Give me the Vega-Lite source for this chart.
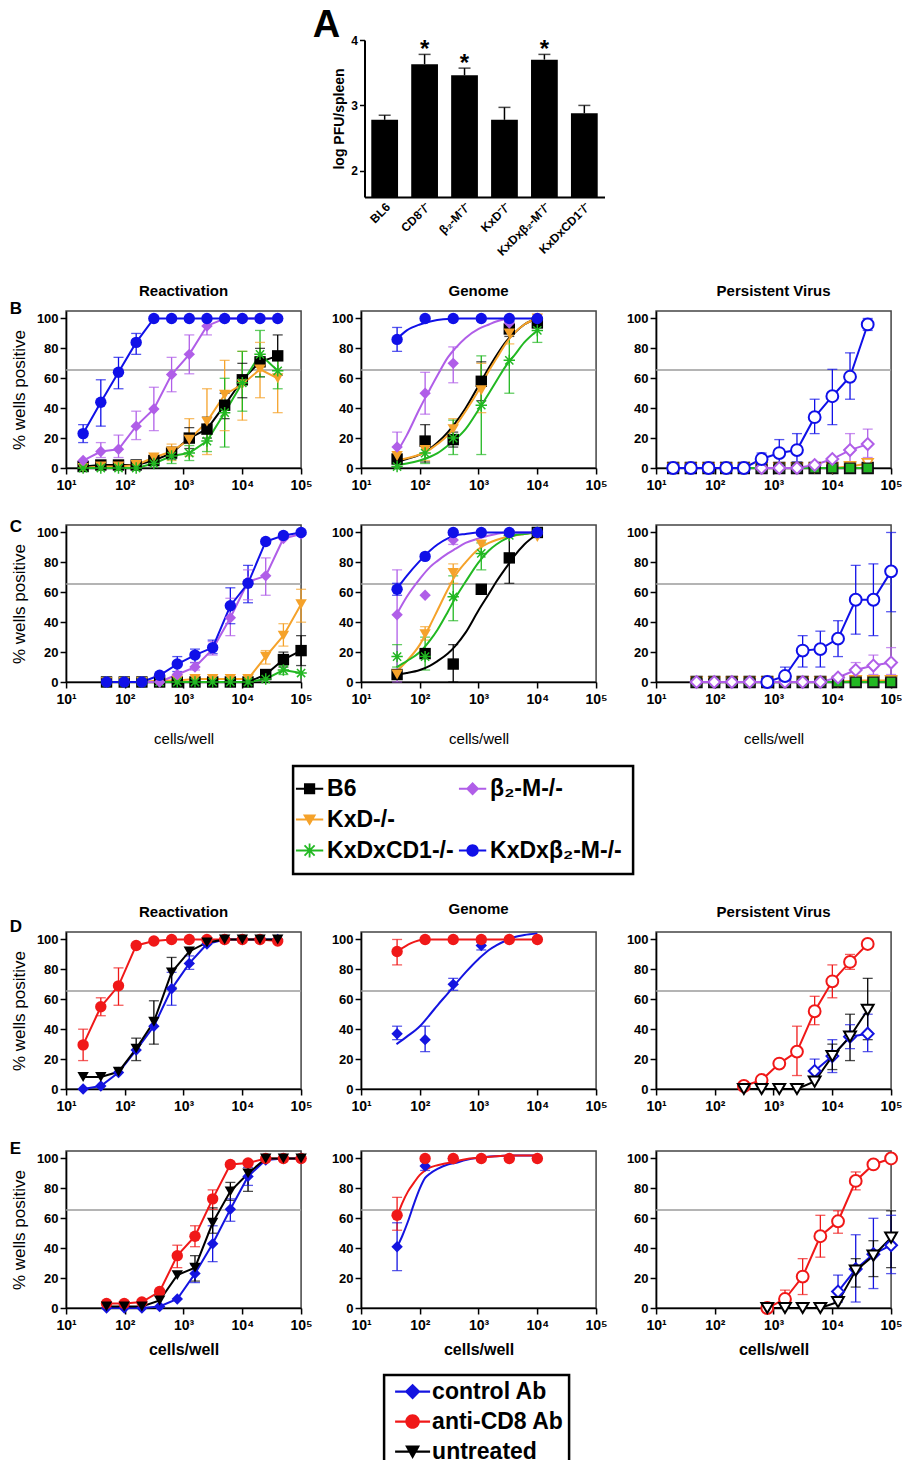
{
"$schema":"https://vega.github.io/schema/vega-lite/v6.json",
"background":"white",
"padding":{"left":9,"top":7,"right":0,"bottom":0},
"spacing":25,
"center":true,
"resolve":{"scale":{"color":"independent","shape":"independent"}},
"config":{
 "font":"Liberation Sans",
 "view":{"stroke":"#444444","strokeWidth":1.5},
 "axis":{"labelFont":"Liberation Sans","labelFontSize":13,"labelFontWeight":"bold","labelColor":"#000000","domainColor":"#000000","domainWidth":1.5,"tickColor":"#000000","tickWidth":1.5,"tickSize":6,"labelPadding":2,"grid":false,"titleFont":"Liberation Sans","titleColor":"#000000","labelOverlap":false},
 "axisX":{"labelFontSize":14,"labelPadding":4},
 "axisY":{"labelOverlap":false},
 "title":{"font":"Liberation Sans","fontSize":15,"fontWeight":"bold","color":"#000000","offset":12},
 "legend":{"labelFont":"Liberation Sans"}
},
"datasets":{
 "thr":[{"t":65.5}],
 "spleen":[{"g":"BL6","m":2.78,"hi":2.85,"sig":""},{"g":"CD8⁻/⁻","m":3.63,"hi":3.78,"sig":"*"},{"g":"β₂-M⁻/⁻","m":3.46,"hi":3.57,"sig":"*"},{"g":"KxD⁻/⁻","m":2.78,"hi":2.97,"sig":""},{"g":"KxDxβ₂-M⁻/⁻","m":3.70,"hi":3.78,"sig":"*"},{"g":"KxDxCD1⁻/⁻","m":2.88,"hi":3.0,"sig":""}],
 "bc":[
  {"p":"BR","s":"B6","x":19.5,"y":1},{"p":"BR","s":"B6","x":39,"y":2},{"p":"BR","s":"B6","x":78,"y":2},{"p":"BR","s":"B6","x":156,"y":2},{"p":"BR","s":"B6","x":312,"y":5},{"p":"BR","s":"B6","x":625,"y":10,"lo":6,"hi":14},{"p":"BR","s":"B6","x":1250,"y":20,"lo":13,"hi":27},{"p":"BR","s":"B6","x":2500,"y":26,"lo":20,"hi":34},{"p":"BR","s":"B6","x":5000,"y":42,"lo":33,"hi":50},{"p":"BR","s":"B6","x":10000,"y":59,"lo":47,"hi":70},{"p":"BR","s":"B6","x":20000,"y":71,"lo":61,"hi":80},{"p":"BR","s":"B6","x":40000,"y":75,"lo":62,"hi":89},
  {"p":"BR","s":"KxD-/-","x":19.5,"y":0},{"p":"BR","s":"KxD-/-","x":39,"y":1},{"p":"BR","s":"KxD-/-","x":78,"y":1},{"p":"BR","s":"KxD-/-","x":156,"y":2},{"p":"BR","s":"KxD-/-","x":312,"y":7},{"p":"BR","s":"KxD-/-","x":625,"y":11,"lo":5,"hi":16},{"p":"BR","s":"KxD-/-","x":1250,"y":19,"lo":8,"hi":33},{"p":"BR","s":"KxD-/-","x":2500,"y":31,"lo":9,"hi":53},{"p":"BR","s":"KxD-/-","x":5000,"y":49,"lo":25,"hi":72},{"p":"BR","s":"KxD-/-","x":10000,"y":56,"lo":32,"hi":78},{"p":"BR","s":"KxD-/-","x":20000,"y":66,"lo":47,"hi":84},{"p":"BR","s":"KxD-/-","x":40000,"y":60,"lo":37,"hi":72},
  {"p":"BR","s":"KxDxCD1-/-","x":19.5,"y":0},{"p":"BR","s":"KxDxCD1-/-","x":39,"y":0},{"p":"BR","s":"KxDxCD1-/-","x":78,"y":0},{"p":"BR","s":"KxDxCD1-/-","x":156,"y":0},{"p":"BR","s":"KxDxCD1-/-","x":312,"y":3},{"p":"BR","s":"KxDxCD1-/-","x":625,"y":8,"lo":3,"hi":13},{"p":"BR","s":"KxDxCD1-/-","x":1250,"y":10,"lo":5,"hi":15},{"p":"BR","s":"KxDxCD1-/-","x":2500,"y":18,"lo":11,"hi":25},{"p":"BR","s":"KxDxCD1-/-","x":5000,"y":37,"lo":14,"hi":60},{"p":"BR","s":"KxDxCD1-/-","x":10000,"y":57,"lo":38,"hi":78},{"p":"BR","s":"KxDxCD1-/-","x":20000,"y":76,"lo":61,"hi":92},{"p":"BR","s":"KxDxCD1-/-","x":40000,"y":65,"lo":53,"hi":77},
  {"p":"BR","s":"β₂-M-/-","x":19.5,"y":5},{"p":"BR","s":"β₂-M-/-","x":39,"y":11,"lo":7,"hi":17},{"p":"BR","s":"β₂-M-/-","x":78,"y":12.5,"lo":7,"hi":22},{"p":"BR","s":"β₂-M-/-","x":156,"y":28,"lo":19,"hi":38},{"p":"BR","s":"β₂-M-/-","x":312,"y":39.5,"lo":25,"hi":54},{"p":"BR","s":"β₂-M-/-","x":625,"y":62.5,"lo":51,"hi":74},{"p":"BR","s":"β₂-M-/-","x":1250,"y":76,"lo":63,"hi":89},{"p":"BR","s":"β₂-M-/-","x":2500,"y":95,"lo":89,"hi":100},{"p":"BR","s":"β₂-M-/-","x":5000,"y":100},{"p":"BR","s":"β₂-M-/-","x":10000,"y":100},{"p":"BR","s":"β₂-M-/-","x":20000,"y":100},{"p":"BR","s":"β₂-M-/-","x":40000,"y":100},
  {"p":"BR","s":"KxDxβ₂-M-/-","x":19.5,"y":23,"lo":17,"hi":29},{"p":"BR","s":"KxDxβ₂-M-/-","x":39,"y":44,"lo":28,"hi":59},{"p":"BR","s":"KxDxβ₂-M-/-","x":78,"y":64,"lo":53,"hi":74},{"p":"BR","s":"KxDxβ₂-M-/-","x":156,"y":84,"lo":76,"hi":90},{"p":"BR","s":"KxDxβ₂-M-/-","x":312,"y":100},{"p":"BR","s":"KxDxβ₂-M-/-","x":625,"y":100},{"p":"BR","s":"KxDxβ₂-M-/-","x":1250,"y":100},{"p":"BR","s":"KxDxβ₂-M-/-","x":2500,"y":100},{"p":"BR","s":"KxDxβ₂-M-/-","x":5000,"y":100},{"p":"BR","s":"KxDxβ₂-M-/-","x":10000,"y":100},{"p":"BR","s":"KxDxβ₂-M-/-","x":20000,"y":100},{"p":"BR","s":"KxDxβ₂-M-/-","x":40000,"y":100},

  {"p":"BG","s":"B6","x":41,"y":6},{"p":"BG","s":"B6","x":123,"y":18,"lo":4,"hi":29},{"p":"BG","s":"B6","x":370,"y":19,"lo":14,"hi":24},{"p":"BG","s":"B6","x":1111,"y":58,"lo":45,"hi":71},{"p":"BG","s":"B6","x":3333,"y":93,"lo":88,"hi":98},{"p":"BG","s":"B6","x":10000,"y":97},
  {"p":"BG","s":"KxD-/-","x":41,"y":8},{"p":"BG","s":"KxD-/-","x":123,"y":12,"lo":5,"hi":20},{"p":"BG","s":"KxD-/-","x":370,"y":26,"lo":20,"hi":33},{"p":"BG","s":"KxD-/-","x":1111,"y":52,"lo":37,"hi":70},{"p":"BG","s":"KxD-/-","x":3333,"y":90,"lo":83,"hi":97},{"p":"BG","s":"KxD-/-","x":10000,"y":100},
  {"p":"BG","s":"KxDxCD1-/-","x":41,"y":1},{"p":"BG","s":"KxDxCD1-/-","x":123,"y":10,"lo":3,"hi":18},{"p":"BG","s":"KxDxCD1-/-","x":370,"y":20,"lo":9,"hi":32},{"p":"BG","s":"KxDxCD1-/-","x":1111,"y":42,"lo":9,"hi":75},{"p":"BG","s":"KxDxCD1-/-","x":3333,"y":72,"lo":50,"hi":95},{"p":"BG","s":"KxDxCD1-/-","x":10000,"y":92,"lo":84,"hi":100},
  {"p":"BG","s":"β₂-M-/-","x":41,"y":14,"lo":5,"hi":24},{"p":"BG","s":"β₂-M-/-","x":123,"y":50,"lo":36,"hi":64},{"p":"BG","s":"β₂-M-/-","x":370,"y":70,"lo":57,"hi":81},{"p":"BG","s":"β₂-M-/-","x":1111,"y":100},{"p":"BG","s":"β₂-M-/-","x":3333,"y":97},{"p":"BG","s":"β₂-M-/-","x":10000,"y":100},
  {"p":"BG","s":"KxDxβ₂-M-/-","x":41,"y":86,"lo":78,"hi":94},{"p":"BG","s":"KxDxβ₂-M-/-","x":123,"y":100},{"p":"BG","s":"KxDxβ₂-M-/-","x":370,"y":100},{"p":"BG","s":"KxDxβ₂-M-/-","x":1111,"y":100},{"p":"BG","s":"KxDxβ₂-M-/-","x":3333,"y":100},{"p":"BG","s":"KxDxβ₂-M-/-","x":10000,"y":100},

  {"p":"BP","s":"B6","x":19.5,"y":0},{"p":"BP","s":"B6","x":39,"y":0},{"p":"BP","s":"B6","x":78,"y":0},{"p":"BP","s":"B6","x":156,"y":0},{"p":"BP","s":"B6","x":312,"y":0},{"p":"BP","s":"B6","x":625,"y":0},{"p":"BP","s":"B6","x":1250,"y":0},{"p":"BP","s":"B6","x":2500,"y":0},{"p":"BP","s":"B6","x":5000,"y":0},{"p":"BP","s":"B6","x":10000,"y":0},{"p":"BP","s":"B6","x":20000,"y":0},{"p":"BP","s":"B6","x":40000,"y":0},
  {"p":"BP","s":"KxD-/-","x":19.5,"y":0},{"p":"BP","s":"KxD-/-","x":39,"y":0},{"p":"BP","s":"KxD-/-","x":78,"y":0},{"p":"BP","s":"KxD-/-","x":156,"y":0},{"p":"BP","s":"KxD-/-","x":312,"y":0},{"p":"BP","s":"KxD-/-","x":625,"y":0},{"p":"BP","s":"KxD-/-","x":1250,"y":0},{"p":"BP","s":"KxD-/-","x":2500,"y":0},{"p":"BP","s":"KxD-/-","x":5000,"y":0},{"p":"BP","s":"KxD-/-","x":10000,"y":0},{"p":"BP","s":"KxD-/-","x":20000,"y":1},{"p":"BP","s":"KxD-/-","x":40000,"y":3,"lo":0,"hi":6},
  {"p":"BP","s":"KxDxCD1-/-","x":19.5,"y":0},{"p":"BP","s":"KxDxCD1-/-","x":39,"y":0},{"p":"BP","s":"KxDxCD1-/-","x":78,"y":0},{"p":"BP","s":"KxDxCD1-/-","x":156,"y":0},{"p":"BP","s":"KxDxCD1-/-","x":312,"y":0},{"p":"BP","s":"KxDxCD1-/-","x":625,"y":0},{"p":"BP","s":"KxDxCD1-/-","x":1250,"y":0},{"p":"BP","s":"KxDxCD1-/-","x":2500,"y":0},{"p":"BP","s":"KxDxCD1-/-","x":5000,"y":0},{"p":"BP","s":"KxDxCD1-/-","x":10000,"y":0},{"p":"BP","s":"KxDxCD1-/-","x":20000,"y":0},{"p":"BP","s":"KxDxCD1-/-","x":40000,"y":0},
  {"p":"BP","s":"β₂-M-/-","x":625,"y":0},{"p":"BP","s":"β₂-M-/-","x":1250,"y":0},{"p":"BP","s":"β₂-M-/-","x":2500,"y":0},{"p":"BP","s":"β₂-M-/-","x":5000,"y":2},{"p":"BP","s":"β₂-M-/-","x":10000,"y":6},{"p":"BP","s":"β₂-M-/-","x":20000,"y":12,"lo":3,"hi":23},{"p":"BP","s":"β₂-M-/-","x":40000,"y":16,"lo":7,"hi":26},
  {"p":"BP","s":"KxDxβ₂-M-/-","x":19.5,"y":0},{"p":"BP","s":"KxDxβ₂-M-/-","x":39,"y":0},{"p":"BP","s":"KxDxβ₂-M-/-","x":78,"y":0},{"p":"BP","s":"KxDxβ₂-M-/-","x":156,"y":0},{"p":"BP","s":"KxDxβ₂-M-/-","x":312,"y":0},{"p":"BP","s":"KxDxβ₂-M-/-","x":625,"y":6,"lo":2,"hi":10},{"p":"BP","s":"KxDxβ₂-M-/-","x":1250,"y":10,"lo":3,"hi":19},{"p":"BP","s":"KxDxβ₂-M-/-","x":2500,"y":12,"lo":4,"hi":23},{"p":"BP","s":"KxDxβ₂-M-/-","x":5000,"y":34,"lo":23,"hi":46},{"p":"BP","s":"KxDxβ₂-M-/-","x":10000,"y":48,"lo":29,"hi":66},{"p":"BP","s":"KxDxβ₂-M-/-","x":20000,"y":61,"lo":46,"hi":77},{"p":"BP","s":"KxDxβ₂-M-/-","x":40000,"y":96,"lo":92,"hi":100},

  {"p":"CR","s":"B6","x":48.8,"y":0},{"p":"CR","s":"B6","x":97.7,"y":0},{"p":"CR","s":"B6","x":195,"y":0},{"p":"CR","s":"B6","x":391,"y":0},{"p":"CR","s":"B6","x":781,"y":0},{"p":"CR","s":"B6","x":1563,"y":0},{"p":"CR","s":"B6","x":3125,"y":0},{"p":"CR","s":"B6","x":6250,"y":0},{"p":"CR","s":"B6","x":12500,"y":0},{"p":"CR","s":"B6","x":25000,"y":5},{"p":"CR","s":"B6","x":50000,"y":15,"lo":10,"hi":20},{"p":"CR","s":"B6","x":100000,"y":21,"lo":11,"hi":31},
  {"p":"CR","s":"KxD-/-","x":48.8,"y":0},{"p":"CR","s":"KxD-/-","x":97.7,"y":0},{"p":"CR","s":"KxD-/-","x":195,"y":0},{"p":"CR","s":"KxD-/-","x":391,"y":1},{"p":"CR","s":"KxD-/-","x":781,"y":1},{"p":"CR","s":"KxD-/-","x":1563,"y":2},{"p":"CR","s":"KxD-/-","x":3125,"y":2},{"p":"CR","s":"KxD-/-","x":6250,"y":2},{"p":"CR","s":"KxD-/-","x":12500,"y":2},{"p":"CR","s":"KxD-/-","x":25000,"y":17,"lo":12,"hi":21},{"p":"CR","s":"KxD-/-","x":50000,"y":31,"lo":24,"hi":39},{"p":"CR","s":"KxD-/-","x":100000,"y":52,"lo":40,"hi":62},
  {"p":"CR","s":"KxDxCD1-/-","x":48.8,"y":0},{"p":"CR","s":"KxDxCD1-/-","x":97.7,"y":0},{"p":"CR","s":"KxDxCD1-/-","x":195,"y":0},{"p":"CR","s":"KxDxCD1-/-","x":391,"y":0},{"p":"CR","s":"KxDxCD1-/-","x":781,"y":0},{"p":"CR","s":"KxDxCD1-/-","x":1563,"y":0},{"p":"CR","s":"KxDxCD1-/-","x":3125,"y":0},{"p":"CR","s":"KxDxCD1-/-","x":6250,"y":0},{"p":"CR","s":"KxDxCD1-/-","x":12500,"y":0},{"p":"CR","s":"KxDxCD1-/-","x":25000,"y":2},{"p":"CR","s":"KxDxCD1-/-","x":50000,"y":8,"lo":5,"hi":11},{"p":"CR","s":"KxDxCD1-/-","x":100000,"y":6},
  {"p":"CR","s":"β₂-M-/-","x":48.8,"y":0},{"p":"CR","s":"β₂-M-/-","x":97.7,"y":0},{"p":"CR","s":"β₂-M-/-","x":195,"y":0},{"p":"CR","s":"β₂-M-/-","x":391,"y":0},{"p":"CR","s":"β₂-M-/-","x":781,"y":5},{"p":"CR","s":"β₂-M-/-","x":1563,"y":10,"lo":8,"hi":13},{"p":"CR","s":"β₂-M-/-","x":3125,"y":22,"lo":18,"hi":27},{"p":"CR","s":"β₂-M-/-","x":6250,"y":43,"lo":31,"hi":56},{"p":"CR","s":"β₂-M-/-","x":12500,"y":67,"lo":55,"hi":75},{"p":"CR","s":"β₂-M-/-","x":25000,"y":71,"lo":58,"hi":83},{"p":"CR","s":"β₂-M-/-","x":50000,"y":96},{"p":"CR","s":"β₂-M-/-","x":100000,"y":99},
  {"p":"CR","s":"KxDxβ₂-M-/-","x":48.8,"y":0},{"p":"CR","s":"KxDxβ₂-M-/-","x":97.7,"y":0},{"p":"CR","s":"KxDxβ₂-M-/-","x":195,"y":0},{"p":"CR","s":"KxDxβ₂-M-/-","x":391,"y":4.5},{"p":"CR","s":"KxDxβ₂-M-/-","x":781,"y":12,"lo":7,"hi":17},{"p":"CR","s":"KxDxβ₂-M-/-","x":1563,"y":18,"lo":13,"hi":22},{"p":"CR","s":"KxDxβ₂-M-/-","x":3125,"y":23,"lo":19,"hi":28},{"p":"CR","s":"KxDxβ₂-M-/-","x":6250,"y":51,"lo":39,"hi":63},{"p":"CR","s":"KxDxβ₂-M-/-","x":12500,"y":66,"lo":53,"hi":78},{"p":"CR","s":"KxDxβ₂-M-/-","x":25000,"y":94},{"p":"CR","s":"KxDxβ₂-M-/-","x":50000,"y":98},{"p":"CR","s":"KxDxβ₂-M-/-","x":100000,"y":100},

  {"p":"CG","s":"B6","x":41,"y":5},{"p":"CG","s":"B6","x":123,"y":19,"lo":16,"hi":22},{"p":"CG","s":"B6","x":370,"y":12,"lo":0,"hi":25},{"p":"CG","s":"B6","x":1111,"y":62},{"p":"CG","s":"B6","x":3333,"y":83,"lo":66,"hi":100},{"p":"CG","s":"B6","x":10000,"y":100},
  {"p":"CG","s":"KxD-/-","x":41,"y":5},{"p":"CG","s":"KxD-/-","x":123,"y":32,"lo":28,"hi":37},{"p":"CG","s":"KxD-/-","x":370,"y":73,"lo":66,"hi":79},{"p":"CG","s":"KxD-/-","x":1111,"y":92},{"p":"CG","s":"KxD-/-","x":3333,"y":98},{"p":"CG","s":"KxD-/-","x":10000,"y":97},
  {"p":"CG","s":"KxDxCD1-/-","x":41,"y":17,"lo":10,"hi":25},{"p":"CG","s":"KxDxCD1-/-","x":123,"y":17,"lo":8,"hi":30},{"p":"CG","s":"KxDxCD1-/-","x":370,"y":57,"lo":41,"hi":71},{"p":"CG","s":"KxDxCD1-/-","x":1111,"y":86,"lo":75,"hi":93},{"p":"CG","s":"KxDxCD1-/-","x":3333,"y":98},{"p":"CG","s":"KxDxCD1-/-","x":10000,"y":100},
  {"p":"CG","s":"β₂-M-/-","x":41,"y":45,"lo":0,"hi":75},{"p":"CG","s":"β₂-M-/-","x":123,"y":58},{"p":"CG","s":"β₂-M-/-","x":370,"y":95,"lo":92,"hi":98},{"p":"CG","s":"β₂-M-/-","x":1111,"y":100},{"p":"CG","s":"β₂-M-/-","x":3333,"y":100},{"p":"CG","s":"β₂-M-/-","x":10000,"y":100},
  {"p":"CG","s":"KxDxβ₂-M-/-","x":41,"y":62,"lo":58,"hi":66},{"p":"CG","s":"KxDxβ₂-M-/-","x":123,"y":84},{"p":"CG","s":"KxDxβ₂-M-/-","x":370,"y":100},{"p":"CG","s":"KxDxβ₂-M-/-","x":1111,"y":100},{"p":"CG","s":"KxDxβ₂-M-/-","x":3333,"y":100},{"p":"CG","s":"KxDxβ₂-M-/-","x":10000,"y":100},

  {"p":"CP","s":"B6","x":48.8,"y":0},{"p":"CP","s":"B6","x":97.7,"y":0},{"p":"CP","s":"B6","x":195,"y":0},{"p":"CP","s":"B6","x":391,"y":0},{"p":"CP","s":"B6","x":781,"y":0},{"p":"CP","s":"B6","x":1563,"y":0},{"p":"CP","s":"B6","x":3125,"y":0},{"p":"CP","s":"B6","x":6250,"y":0},{"p":"CP","s":"B6","x":12500,"y":0},{"p":"CP","s":"B6","x":25000,"y":0},{"p":"CP","s":"B6","x":50000,"y":0},{"p":"CP","s":"B6","x":100000,"y":0},
  {"p":"CP","s":"KxD-/-","x":48.8,"y":0},{"p":"CP","s":"KxD-/-","x":97.7,"y":0},{"p":"CP","s":"KxD-/-","x":195,"y":0},{"p":"CP","s":"KxD-/-","x":391,"y":0},{"p":"CP","s":"KxD-/-","x":781,"y":0},{"p":"CP","s":"KxD-/-","x":1563,"y":0},{"p":"CP","s":"KxD-/-","x":3125,"y":0},{"p":"CP","s":"KxD-/-","x":6250,"y":0},{"p":"CP","s":"KxD-/-","x":12500,"y":0},{"p":"CP","s":"KxD-/-","x":25000,"y":1},{"p":"CP","s":"KxD-/-","x":50000,"y":1},{"p":"CP","s":"KxD-/-","x":100000,"y":1},
  {"p":"CP","s":"KxDxCD1-/-","x":48.8,"y":0},{"p":"CP","s":"KxDxCD1-/-","x":97.7,"y":0},{"p":"CP","s":"KxDxCD1-/-","x":195,"y":0},{"p":"CP","s":"KxDxCD1-/-","x":391,"y":0},{"p":"CP","s":"KxDxCD1-/-","x":781,"y":0},{"p":"CP","s":"KxDxCD1-/-","x":1563,"y":0},{"p":"CP","s":"KxDxCD1-/-","x":3125,"y":0},{"p":"CP","s":"KxDxCD1-/-","x":6250,"y":0},{"p":"CP","s":"KxDxCD1-/-","x":12500,"y":0},{"p":"CP","s":"KxDxCD1-/-","x":25000,"y":0},{"p":"CP","s":"KxDxCD1-/-","x":50000,"y":0},{"p":"CP","s":"KxDxCD1-/-","x":100000,"y":0},
  {"p":"CP","s":"β₂-M-/-","x":48.8,"y":0},{"p":"CP","s":"β₂-M-/-","x":97.7,"y":0},{"p":"CP","s":"β₂-M-/-","x":195,"y":0},{"p":"CP","s":"β₂-M-/-","x":391,"y":0},{"p":"CP","s":"β₂-M-/-","x":781,"y":0},{"p":"CP","s":"β₂-M-/-","x":1563,"y":0},{"p":"CP","s":"β₂-M-/-","x":3125,"y":0},{"p":"CP","s":"β₂-M-/-","x":6250,"y":0},{"p":"CP","s":"β₂-M-/-","x":12500,"y":3},{"p":"CP","s":"β₂-M-/-","x":25000,"y":8,"lo":4,"hi":13},{"p":"CP","s":"β₂-M-/-","x":50000,"y":11,"lo":5,"hi":18},{"p":"CP","s":"β₂-M-/-","x":100000,"y":13,"lo":5,"hi":23},
  {"p":"CP","s":"KxDxβ₂-M-/-","x":781,"y":0},{"p":"CP","s":"KxDxβ₂-M-/-","x":1563,"y":4,"lo":0,"hi":10},{"p":"CP","s":"KxDxβ₂-M-/-","x":3125,"y":21,"lo":10,"hi":31},{"p":"CP","s":"KxDxβ₂-M-/-","x":6250,"y":22,"lo":10,"hi":34},{"p":"CP","s":"KxDxβ₂-M-/-","x":12500,"y":29,"lo":17,"hi":41},{"p":"CP","s":"KxDxβ₂-M-/-","x":25000,"y":55,"lo":32,"hi":78},{"p":"CP","s":"KxDxβ₂-M-/-","x":50000,"y":55,"lo":31,"hi":79},{"p":"CP","s":"KxDxβ₂-M-/-","x":100000,"y":74,"lo":47,"hi":100}
 ],
 "fit":[
  {"p":"BG","s":"B6","x":40,"y":4},{"p":"BG","s":"B6","x":60,"y":6},{"p":"BG","s":"B6","x":100,"y":9},{"p":"BG","s":"B6","x":150,"y":13},{"p":"BG","s":"B6","x":200,"y":17},{"p":"BG","s":"B6","x":300,"y":24},{"p":"BG","s":"B6","x":400,"y":30},{"p":"BG","s":"B6","x":600,"y":40},{"p":"BG","s":"B6","x":1000,"y":55},{"p":"BG","s":"B6","x":1500,"y":67},{"p":"BG","s":"B6","x":2000,"y":75},{"p":"BG","s":"B6","x":3000,"y":85},{"p":"BG","s":"B6","x":4000,"y":90},{"p":"BG","s":"B6","x":6000,"y":96},{"p":"BG","s":"B6","x":10000,"y":100},
  {"p":"BG","s":"KxD-/-","x":40,"y":5},{"p":"BG","s":"KxD-/-","x":60,"y":6.5},{"p":"BG","s":"KxD-/-","x":100,"y":9},{"p":"BG","s":"KxD-/-","x":150,"y":12.5},{"p":"BG","s":"KxD-/-","x":200,"y":16},{"p":"BG","s":"KxD-/-","x":300,"y":22},{"p":"BG","s":"KxD-/-","x":400,"y":28},{"p":"BG","s":"KxD-/-","x":600,"y":38},{"p":"BG","s":"KxD-/-","x":1000,"y":52},{"p":"BG","s":"KxD-/-","x":1500,"y":65},{"p":"BG","s":"KxD-/-","x":2000,"y":73},{"p":"BG","s":"KxD-/-","x":3000,"y":84},{"p":"BG","s":"KxD-/-","x":4000,"y":90},{"p":"BG","s":"KxD-/-","x":6000,"y":96},{"p":"BG","s":"KxD-/-","x":10000,"y":100},
  {"p":"BG","s":"KxDxCD1-/-","x":40,"y":2},{"p":"BG","s":"KxDxCD1-/-","x":60,"y":3},{"p":"BG","s":"KxDxCD1-/-","x":100,"y":5},{"p":"BG","s":"KxDxCD1-/-","x":150,"y":7.5},{"p":"BG","s":"KxDxCD1-/-","x":200,"y":10},{"p":"BG","s":"KxDxCD1-/-","x":300,"y":15},{"p":"BG","s":"KxDxCD1-/-","x":400,"y":19},{"p":"BG","s":"KxDxCD1-/-","x":600,"y":26},{"p":"BG","s":"KxDxCD1-/-","x":1000,"y":39},{"p":"BG","s":"KxDxCD1-/-","x":1500,"y":50},{"p":"BG","s":"KxDxCD1-/-","x":2000,"y":58},{"p":"BG","s":"KxDxCD1-/-","x":3000,"y":69},{"p":"BG","s":"KxDxCD1-/-","x":4000,"y":75},{"p":"BG","s":"KxDxCD1-/-","x":6000,"y":84},{"p":"BG","s":"KxDxCD1-/-","x":10000,"y":92},
  {"p":"BG","s":"β₂-M-/-","x":40,"y":10},{"p":"BG","s":"β₂-M-/-","x":60,"y":22},{"p":"BG","s":"β₂-M-/-","x":100,"y":40},{"p":"BG","s":"β₂-M-/-","x":150,"y":53},{"p":"BG","s":"β₂-M-/-","x":200,"y":62},{"p":"BG","s":"β₂-M-/-","x":300,"y":74},{"p":"BG","s":"β₂-M-/-","x":400,"y":80},{"p":"BG","s":"β₂-M-/-","x":600,"y":87},{"p":"BG","s":"β₂-M-/-","x":1000,"y":93},{"p":"BG","s":"β₂-M-/-","x":1500,"y":96},{"p":"BG","s":"β₂-M-/-","x":2000,"y":98},{"p":"BG","s":"β₂-M-/-","x":3300,"y":100},
  {"p":"BG","s":"KxDxβ₂-M-/-","x":40,"y":86},{"p":"BG","s":"KxDxβ₂-M-/-","x":60,"y":92},{"p":"BG","s":"KxDxβ₂-M-/-","x":100,"y":96},{"p":"BG","s":"KxDxβ₂-M-/-","x":150,"y":98},{"p":"BG","s":"KxDxβ₂-M-/-","x":250,"y":99.5},{"p":"BG","s":"KxDxβ₂-M-/-","x":500,"y":100},{"p":"BG","s":"KxDxβ₂-M-/-","x":10000,"y":100},
  {"p":"CG","s":"B6","x":40,"y":5},{"p":"CG","s":"B6","x":60,"y":6},{"p":"CG","s":"B6","x":100,"y":8},{"p":"CG","s":"B6","x":150,"y":11},{"p":"CG","s":"B6","x":200,"y":14},{"p":"CG","s":"B6","x":300,"y":19},{"p":"CG","s":"B6","x":400,"y":24},{"p":"CG","s":"B6","x":600,"y":33},{"p":"CG","s":"B6","x":1000,"y":48},{"p":"CG","s":"B6","x":1500,"y":59},{"p":"CG","s":"B6","x":2000,"y":67},{"p":"CG","s":"B6","x":3000,"y":77},{"p":"CG","s":"B6","x":4000,"y":84},{"p":"CG","s":"B6","x":6000,"y":92},{"p":"CG","s":"B6","x":10000,"y":99},
  {"p":"CG","s":"KxD-/-","x":40,"y":7},{"p":"CG","s":"KxD-/-","x":60,"y":14},{"p":"CG","s":"KxD-/-","x":100,"y":25},{"p":"CG","s":"KxD-/-","x":150,"y":38},{"p":"CG","s":"KxD-/-","x":200,"y":48},{"p":"CG","s":"KxD-/-","x":300,"y":62},{"p":"CG","s":"KxD-/-","x":400,"y":71},{"p":"CG","s":"KxD-/-","x":600,"y":80},{"p":"CG","s":"KxD-/-","x":1000,"y":89},{"p":"CG","s":"KxD-/-","x":1500,"y":93},{"p":"CG","s":"KxD-/-","x":2000,"y":95},{"p":"CG","s":"KxD-/-","x":3000,"y":97},{"p":"CG","s":"KxD-/-","x":4000,"y":98},{"p":"CG","s":"KxD-/-","x":6000,"y":99},{"p":"CG","s":"KxD-/-","x":10000,"y":100},
  {"p":"CG","s":"KxDxCD1-/-","x":40,"y":10},{"p":"CG","s":"KxDxCD1-/-","x":60,"y":14},{"p":"CG","s":"KxDxCD1-/-","x":100,"y":20},{"p":"CG","s":"KxDxCD1-/-","x":150,"y":28},{"p":"CG","s":"KxDxCD1-/-","x":200,"y":35},{"p":"CG","s":"KxDxCD1-/-","x":300,"y":47},{"p":"CG","s":"KxDxCD1-/-","x":400,"y":56},{"p":"CG","s":"KxDxCD1-/-","x":600,"y":67},{"p":"CG","s":"KxDxCD1-/-","x":1000,"y":80},{"p":"CG","s":"KxDxCD1-/-","x":1500,"y":88},{"p":"CG","s":"KxDxCD1-/-","x":2000,"y":92},{"p":"CG","s":"KxDxCD1-/-","x":3000,"y":96},{"p":"CG","s":"KxDxCD1-/-","x":4000,"y":98},{"p":"CG","s":"KxDxCD1-/-","x":6000,"y":99},{"p":"CG","s":"KxDxCD1-/-","x":10000,"y":100},
  {"p":"CG","s":"β₂-M-/-","x":40,"y":45},{"p":"CG","s":"β₂-M-/-","x":60,"y":57},{"p":"CG","s":"β₂-M-/-","x":100,"y":69},{"p":"CG","s":"β₂-M-/-","x":150,"y":77},{"p":"CG","s":"β₂-M-/-","x":200,"y":81},{"p":"CG","s":"β₂-M-/-","x":300,"y":86},{"p":"CG","s":"β₂-M-/-","x":400,"y":89},{"p":"CG","s":"β₂-M-/-","x":600,"y":93},{"p":"CG","s":"β₂-M-/-","x":1000,"y":96},{"p":"CG","s":"β₂-M-/-","x":2000,"y":99},{"p":"CG","s":"β₂-M-/-","x":3000,"y":100},{"p":"CG","s":"β₂-M-/-","x":10000,"y":100},
  {"p":"CG","s":"KxDxβ₂-M-/-","x":40,"y":62},{"p":"CG","s":"KxDxβ₂-M-/-","x":60,"y":71},{"p":"CG","s":"KxDxβ₂-M-/-","x":100,"y":81},{"p":"CG","s":"KxDxβ₂-M-/-","x":150,"y":88},{"p":"CG","s":"KxDxβ₂-M-/-","x":200,"y":92},{"p":"CG","s":"KxDxβ₂-M-/-","x":300,"y":96},{"p":"CG","s":"KxDxβ₂-M-/-","x":400,"y":98},{"p":"CG","s":"KxDxβ₂-M-/-","x":600,"y":99},{"p":"CG","s":"KxDxβ₂-M-/-","x":1000,"y":100},{"p":"CG","s":"KxDxβ₂-M-/-","x":10000,"y":100},
  {"p":"DG","s":"control Ab","x":40,"y":30},{"p":"DG","s":"control Ab","x":60,"y":35},{"p":"DG","s":"control Ab","x":100,"y":42},{"p":"DG","s":"control Ab","x":150,"y":50},{"p":"DG","s":"control Ab","x":200,"y":56},{"p":"DG","s":"control Ab","x":300,"y":64},{"p":"DG","s":"control Ab","x":400,"y":70},{"p":"DG","s":"control Ab","x":600,"y":78},{"p":"DG","s":"control Ab","x":1000,"y":87},{"p":"DG","s":"control Ab","x":1500,"y":93},{"p":"DG","s":"control Ab","x":2000,"y":96},{"p":"DG","s":"control Ab","x":3000,"y":99.5},{"p":"DG","s":"control Ab","x":4000,"y":101.5},{"p":"DG","s":"control Ab","x":6000,"y":103},{"p":"DG","s":"control Ab","x":10000,"y":104},
  {"p":"DG","s":"anti-CD8 Ab","x":41,"y":92},{"p":"DG","s":"anti-CD8 Ab","x":123,"y":100},{"p":"DG","s":"anti-CD8 Ab","x":370,"y":100},{"p":"DG","s":"anti-CD8 Ab","x":1111,"y":100},{"p":"DG","s":"anti-CD8 Ab","x":3333,"y":100},{"p":"DG","s":"anti-CD8 Ab","x":10000,"y":100},
  {"p":"EG","s":"control Ab","x":40,"y":40},{"p":"EG","s":"control Ab","x":50,"y":48},{"p":"EG","s":"control Ab","x":63,"y":58},{"p":"EG","s":"control Ab","x":80,"y":70},{"p":"EG","s":"control Ab","x":100,"y":80},{"p":"EG","s":"control Ab","x":123,"y":87},{"p":"EG","s":"control Ab","x":150,"y":90},{"p":"EG","s":"control Ab","x":200,"y":93},{"p":"EG","s":"control Ab","x":300,"y":96},{"p":"EG","s":"control Ab","x":400,"y":97},{"p":"EG","s":"control Ab","x":600,"y":99},{"p":"EG","s":"control Ab","x":1000,"y":100.5},{"p":"EG","s":"control Ab","x":2000,"y":101.5},{"p":"EG","s":"control Ab","x":4000,"y":102},{"p":"EG","s":"control Ab","x":10000,"y":102},
  {"p":"EG","s":"anti-CD8 Ab","x":40,"y":60},{"p":"EG","s":"anti-CD8 Ab","x":50,"y":70},{"p":"EG","s":"anti-CD8 Ab","x":63,"y":78},{"p":"EG","s":"anti-CD8 Ab","x":80,"y":84},{"p":"EG","s":"anti-CD8 Ab","x":100,"y":89},{"p":"EG","s":"anti-CD8 Ab","x":123,"y":92},{"p":"EG","s":"anti-CD8 Ab","x":150,"y":94},{"p":"EG","s":"anti-CD8 Ab","x":200,"y":95.5},{"p":"EG","s":"anti-CD8 Ab","x":300,"y":97},{"p":"EG","s":"anti-CD8 Ab","x":400,"y":98},{"p":"EG","s":"anti-CD8 Ab","x":600,"y":99.5},{"p":"EG","s":"anti-CD8 Ab","x":1000,"y":100.5},{"p":"EG","s":"anti-CD8 Ab","x":2000,"y":101.5},{"p":"EG","s":"anti-CD8 Ab","x":4000,"y":102},{"p":"EG","s":"anti-CD8 Ab","x":10000,"y":102}
 ],
 "de":[
  {"p":"DR","s":"control Ab","x":19.5,"y":0},{"p":"DR","s":"control Ab","x":39,"y":2},{"p":"DR","s":"control Ab","x":78,"y":11},{"p":"DR","s":"control Ab","x":156,"y":26},{"p":"DR","s":"control Ab","x":312,"y":42},{"p":"DR","s":"control Ab","x":625,"y":67,"lo":56,"hi":78},{"p":"DR","s":"control Ab","x":1250,"y":84,"lo":80,"hi":89},{"p":"DR","s":"control Ab","x":2500,"y":97},{"p":"DR","s":"control Ab","x":5000,"y":100},{"p":"DR","s":"control Ab","x":10000,"y":100},{"p":"DR","s":"control Ab","x":20000,"y":100},{"p":"DR","s":"control Ab","x":40000,"y":100},
  {"p":"DR","s":"anti-CD8 Ab","x":19.5,"y":29.5,"lo":19,"hi":40},{"p":"DR","s":"anti-CD8 Ab","x":39,"y":55,"lo":49,"hi":61},{"p":"DR","s":"anti-CD8 Ab","x":78,"y":69,"lo":56,"hi":81},{"p":"DR","s":"anti-CD8 Ab","x":156,"y":96},{"p":"DR","s":"anti-CD8 Ab","x":312,"y":99},{"p":"DR","s":"anti-CD8 Ab","x":625,"y":100},{"p":"DR","s":"anti-CD8 Ab","x":1250,"y":100},{"p":"DR","s":"anti-CD8 Ab","x":2500,"y":100},{"p":"DR","s":"anti-CD8 Ab","x":5000,"y":100},{"p":"DR","s":"anti-CD8 Ab","x":10000,"y":100},{"p":"DR","s":"anti-CD8 Ab","x":20000,"y":100},{"p":"DR","s":"anti-CD8 Ab","x":40000,"y":99},
  {"p":"DR","s":"untreated","x":19.5,"y":8},{"p":"DR","s":"untreated","x":39,"y":8},{"p":"DR","s":"untreated","x":78,"y":11.5},{"p":"DR","s":"untreated","x":156,"y":27,"lo":19,"hi":34},{"p":"DR","s":"untreated","x":312,"y":45,"lo":30,"hi":59},{"p":"DR","s":"untreated","x":625,"y":78,"lo":68,"hi":88},{"p":"DR","s":"untreated","x":1250,"y":92},{"p":"DR","s":"untreated","x":2500,"y":98},{"p":"DR","s":"untreated","x":5000,"y":100},{"p":"DR","s":"untreated","x":10000,"y":100},{"p":"DR","s":"untreated","x":20000,"y":100},{"p":"DR","s":"untreated","x":40000,"y":100},
  {"p":"DG","s":"control Ab","x":41,"y":37,"lo":33,"hi":42},{"p":"DG","s":"control Ab","x":123,"y":33,"lo":25,"hi":42},{"p":"DG","s":"control Ab","x":370,"y":70,"lo":66,"hi":74},{"p":"DG","s":"control Ab","x":1111,"y":96,"lo":93,"hi":98},{"p":"DG","s":"control Ab","x":3333,"y":100},{"p":"DG","s":"control Ab","x":10000,"y":100},
  {"p":"DG","s":"anti-CD8 Ab","x":41,"y":92,"lo":83,"hi":100},{"p":"DG","s":"anti-CD8 Ab","x":123,"y":100},{"p":"DG","s":"anti-CD8 Ab","x":370,"y":100},{"p":"DG","s":"anti-CD8 Ab","x":1111,"y":100},{"p":"DG","s":"anti-CD8 Ab","x":3333,"y":100},{"p":"DG","s":"anti-CD8 Ab","x":10000,"y":100},
  {"p":"DP","s":"control Ab","x":5000,"y":12,"lo":6,"hi":20},{"p":"DP","s":"control Ab","x":10000,"y":22,"lo":11,"hi":33},{"p":"DP","s":"control Ab","x":20000,"y":35,"lo":27,"hi":43},{"p":"DP","s":"control Ab","x":40000,"y":37,"lo":25,"hi":50},
  {"p":"DP","s":"anti-CD8 Ab","x":312,"y":2},{"p":"DP","s":"anti-CD8 Ab","x":625,"y":6},{"p":"DP","s":"anti-CD8 Ab","x":1250,"y":17},{"p":"DP","s":"anti-CD8 Ab","x":2500,"y":25,"lo":9,"hi":42},{"p":"DP","s":"anti-CD8 Ab","x":5000,"y":52,"lo":43,"hi":62},{"p":"DP","s":"anti-CD8 Ab","x":10000,"y":72,"lo":61,"hi":83},{"p":"DP","s":"anti-CD8 Ab","x":20000,"y":85,"lo":80,"hi":90},{"p":"DP","s":"anti-CD8 Ab","x":40000,"y":97},
  {"p":"DP","s":"untreated","x":312,"y":0},{"p":"DP","s":"untreated","x":625,"y":0},{"p":"DP","s":"untreated","x":1250,"y":0},{"p":"DP","s":"untreated","x":2500,"y":0},{"p":"DP","s":"untreated","x":5000,"y":5},{"p":"DP","s":"untreated","x":10000,"y":22,"lo":13,"hi":30},{"p":"DP","s":"untreated","x":20000,"y":35,"lo":19,"hi":50},{"p":"DP","s":"untreated","x":40000,"y":53,"lo":33,"hi":74},
  {"p":"ER","s":"control Ab","x":48.8,"y":0},{"p":"ER","s":"control Ab","x":97.7,"y":0},{"p":"ER","s":"control Ab","x":195,"y":0},{"p":"ER","s":"control Ab","x":391,"y":1},{"p":"ER","s":"control Ab","x":781,"y":6},{"p":"ER","s":"control Ab","x":1563,"y":23,"lo":17,"hi":29},{"p":"ER","s":"control Ab","x":3125,"y":43,"lo":31,"hi":55},{"p":"ER","s":"control Ab","x":6250,"y":66,"lo":58,"hi":73},{"p":"ER","s":"control Ab","x":12500,"y":88,"lo":82,"hi":94},{"p":"ER","s":"control Ab","x":25000,"y":99},{"p":"ER","s":"control Ab","x":50000,"y":100},{"p":"ER","s":"control Ab","x":100000,"y":100},
  {"p":"ER","s":"anti-CD8 Ab","x":48.8,"y":3},{"p":"ER","s":"anti-CD8 Ab","x":97.7,"y":3},{"p":"ER","s":"anti-CD8 Ab","x":195,"y":4},{"p":"ER","s":"anti-CD8 Ab","x":391,"y":11},{"p":"ER","s":"anti-CD8 Ab","x":781,"y":35,"lo":27,"hi":42},{"p":"ER","s":"anti-CD8 Ab","x":1563,"y":48,"lo":41,"hi":55},{"p":"ER","s":"anti-CD8 Ab","x":3125,"y":73,"lo":66,"hi":79},{"p":"ER","s":"anti-CD8 Ab","x":6250,"y":96},{"p":"ER","s":"anti-CD8 Ab","x":12500,"y":97},{"p":"ER","s":"anti-CD8 Ab","x":25000,"y":100},{"p":"ER","s":"anti-CD8 Ab","x":50000,"y":100},{"p":"ER","s":"anti-CD8 Ab","x":100000,"y":100},
  {"p":"ER","s":"untreated","x":48.8,"y":1},{"p":"ER","s":"untreated","x":97.7,"y":1},{"p":"ER","s":"untreated","x":195,"y":1},{"p":"ER","s":"untreated","x":391,"y":5},{"p":"ER","s":"untreated","x":781,"y":22},{"p":"ER","s":"untreated","x":1563,"y":27,"lo":18,"hi":35},{"p":"ER","s":"untreated","x":3125,"y":57,"lo":50,"hi":67},{"p":"ER","s":"untreated","x":6250,"y":78,"lo":72,"hi":84},{"p":"ER","s":"untreated","x":12500,"y":90,"lo":78,"hi":98},{"p":"ER","s":"untreated","x":25000,"y":100},{"p":"ER","s":"untreated","x":50000,"y":100},{"p":"ER","s":"untreated","x":100000,"y":100},
  {"p":"EG","s":"control Ab","x":41,"y":41,"lo":25,"hi":57},{"p":"EG","s":"control Ab","x":123,"y":95,"lo":92,"hi":98},{"p":"EG","s":"control Ab","x":370,"y":100},{"p":"EG","s":"control Ab","x":1111,"y":100},{"p":"EG","s":"control Ab","x":3333,"y":100},{"p":"EG","s":"control Ab","x":10000,"y":100},
  {"p":"EG","s":"anti-CD8 Ab","x":41,"y":62,"lo":52,"hi":74},{"p":"EG","s":"anti-CD8 Ab","x":123,"y":100},{"p":"EG","s":"anti-CD8 Ab","x":370,"y":100},{"p":"EG","s":"anti-CD8 Ab","x":1111,"y":100},{"p":"EG","s":"anti-CD8 Ab","x":3333,"y":100},{"p":"EG","s":"anti-CD8 Ab","x":10000,"y":100},
  {"p":"EP","s":"control Ab","x":12500,"y":11,"lo":4,"hi":22},{"p":"EP","s":"control Ab","x":25000,"y":26,"lo":4,"hi":49},{"p":"EP","s":"control Ab","x":50000,"y":36,"lo":13,"hi":60},{"p":"EP","s":"control Ab","x":100000,"y":42,"lo":23,"hi":62},
  {"p":"EP","s":"anti-CD8 Ab","x":781,"y":0},{"p":"EP","s":"anti-CD8 Ab","x":1563,"y":6,"lo":1,"hi":12},{"p":"EP","s":"anti-CD8 Ab","x":3125,"y":21,"lo":9,"hi":33},{"p":"EP","s":"anti-CD8 Ab","x":6250,"y":48,"lo":34,"hi":62},{"p":"EP","s":"anti-CD8 Ab","x":12500,"y":58,"lo":50,"hi":65},{"p":"EP","s":"anti-CD8 Ab","x":25000,"y":85,"lo":79,"hi":91},{"p":"EP","s":"anti-CD8 Ab","x":50000,"y":96},{"p":"EP","s":"anti-CD8 Ab","x":100000,"y":100},
  {"p":"EP","s":"untreated","x":781,"y":0},{"p":"EP","s":"untreated","x":1563,"y":0},{"p":"EP","s":"untreated","x":3125,"y":0},{"p":"EP","s":"untreated","x":6250,"y":0},{"p":"EP","s":"untreated","x":12500,"y":4},{"p":"EP","s":"untreated","x":25000,"y":25,"lo":14,"hi":33},{"p":"EP","s":"untreated","x":50000,"y":35,"lo":21,"hi":45},{"p":"EP","s":"untreated","x":100000,"y":47,"lo":27,"hi":65}
 ]
},
"vconcat":[
 {
  "width":240,"height":157,
  "view":{"stroke":null},
  "title":{"text":"A","fontSize":38,"fontWeight":"bold","anchor":"start","frame":"bounds","dx":-20,"offset":-41,"baseline":"alphabetic"},
  "data":{"name":"spleen"},
  "layer":[
   {"mark":{"type":"bar","color":"#000000"},"encoding":{"x":{"field":"g","type":"nominal","sort":null,"scale":{"paddingInner":0.33,"paddingOuter":0.17},"axis":{"title":null,"labelAngle":-45,"ticks":false,"labelFontSize":12,"labelPadding":4,"domainWidth":2}},"y":{"field":"m","type":"quantitative","scale":{"domain":[1.6,4],"nice":false,"zero":false},"axis":{"values":[2,3,4],"format":"d","labelOverlap":false,"tickSize":5,"title":"log PFU/spleen","titleFontWeight":"bold","titleFontSize":14,"labelFontSize":12,"domainWidth":2}},"y2":{"datum":1.6}}},
   {"mark":{"type":"rule","color":"#000000","strokeWidth":1.5},"encoding":{"x":{"field":"g","type":"nominal","sort":null},"y":{"field":"m","type":"quantitative"},"y2":{"field":"hi"}}},
   {"mark":{"type":"tick","orient":"horizontal","size":12,"thickness":1.5,"color":"#000000"},"encoding":{"x":{"field":"g","type":"nominal","sort":null},"y":{"field":"hi","type":"quantitative"}}},
   {"mark":{"type":"text","fontSize":24,"fontWeight":"bold","baseline":"alphabetic","dy":3,"color":"#000000"},"encoding":{"x":{"field":"g","type":"nominal","sort":null},"y":{"field":"hi","type":"quantitative"},"text":{"field":"sig"}}}
  ]
 },
 {
  "title":{"text":"B","anchor":"start","frame":"bounds","fontSize":17,"dy":35,"offset":0},
  "bounds":"flush",
  "spacing":60,
  "resolve":{"scale":{"color":"independent","shape":"independent"}},
  "hconcat":[
   {"width":235,"height":157,"title":"Reactivation","data":{"name":"bc"},"transform":[{"filter":"datum.p=='BR'"}],
    "layer":[
     {"data":{"name":"thr"},"mark":{"type":"rule","color":"#9b9b9b","strokeWidth":1.5},"encoding":{"y":{"field":"t","type":"quantitative","scale":{"domain":[0,105],"nice":false,"zero":false},"axis":{"values":[0,20,40,60,80,100],"labelOverlap":false,"title":"% wells positive","titleFontSize":17,"titleFontWeight":"normal","titlePadding":8}}}},
     {"mark":{"type":"rule","strokeWidth":1.3},"encoding":{"x":{"field":"x","type":"quantitative","scale":{"type":"log","domain":[10,100000],"nice":false}},"y":{"field":"lo","type":"quantitative","scale":{"domain":[0,105],"nice":false,"zero":false},"axis":{"values":[0,20,40,60,80,100],"labelOverlap":false,"title":"% wells positive","titleFontSize":17,"titleFontWeight":"normal","titlePadding":8}},"y2":{"field":"hi"},"color":{"field":"s","type":"nominal","scale":{"domain":["B6","KxD-/-","KxDxCD1-/-","β₂-M-/-","KxDxβ₂-M-/-"],"range":["#000000","#f5a22a","#22b822","#b05ee8","#1010e8"]},"legend":null}}},
     {"mark":{"type":"tick","orient":"horizontal","size":10,"thickness":1.3},"encoding":{"x":{"field":"x","type":"quantitative","scale":{"type":"log","domain":[10,100000],"nice":false}},"y":{"field":"lo","type":"quantitative","scale":{"domain":[0,105],"nice":false,"zero":false},"axis":{"values":[0,20,40,60,80,100],"labelOverlap":false,"title":"% wells positive","titleFontSize":17,"titleFontWeight":"normal","titlePadding":8}},"color":{"field":"s","type":"nominal","scale":{"domain":["B6","KxD-/-","KxDxCD1-/-","β₂-M-/-","KxDxβ₂-M-/-"],"range":["#000000","#f5a22a","#22b822","#b05ee8","#1010e8"]},"legend":null}}},
     {"mark":{"type":"tick","orient":"horizontal","size":10,"thickness":1.3},"encoding":{"x":{"field":"x","type":"quantitative","scale":{"type":"log","domain":[10,100000],"nice":false}},"y":{"field":"hi","type":"quantitative","scale":{"domain":[0,105],"nice":false,"zero":false},"axis":{"values":[0,20,40,60,80,100],"labelOverlap":false,"title":"% wells positive","titleFontSize":17,"titleFontWeight":"normal","titlePadding":8}},"color":{"field":"s","type":"nominal","scale":{"domain":["B6","KxD-/-","KxDxCD1-/-","β₂-M-/-","KxDxβ₂-M-/-"],"range":["#000000","#f5a22a","#22b822","#b05ee8","#1010e8"]},"legend":null}}},
     {"mark":{"type":"line","strokeWidth":2},"encoding":{"x":{"field":"x","type":"quantitative","scale":{"type":"log","domain":[10,100000],"nice":false}},"y":{"field":"y","type":"quantitative","scale":{"domain":[0,105],"nice":false,"zero":false},"axis":{"values":[0,20,40,60,80,100],"labelOverlap":false,"title":"% wells positive","titleFontSize":17,"titleFontWeight":"normal","titlePadding":8}},"color":{"field":"s","type":"nominal","scale":{"domain":["B6","KxD-/-","KxDxCD1-/-","β₂-M-/-","KxDxβ₂-M-/-"],"range":["#000000","#f5a22a","#22b822","#b05ee8","#1010e8"]},"legend":null}}},
     {"mark":{"type":"point","filled":true,"size":130,"opacity":1},"encoding":{"x":{"field":"x","type":"quantitative","scale":{"type":"log","domain":[10,100000],"nice":false},"axis":{"values":[10,100,1000,10000,100000],"labelExpr":"'10' + ['¹','²','³','⁴','⁵'][round(log(datum.value)/LN10)-1]","labelFlush":false,"labelOverlap":false,"title":null}},"y":{"field":"y","type":"quantitative","scale":{"domain":[0,105],"nice":false,"zero":false},"axis":{"values":[0,20,40,60,80,100],"labelOverlap":false,"title":"% wells positive","titleFontSize":17,"titleFontWeight":"normal","titlePadding":8}},"color":{"field":"s","type":"nominal","scale":{"domain":["B6","KxD-/-","KxDxCD1-/-","β₂-M-/-","KxDxβ₂-M-/-"],"range":["#000000","#f5a22a","#22b822","#b05ee8","#1010e8"]},"legend":null},"shape":{"field":"s","type":"nominal","scale":{"domain":["B6","KxD-/-","KxDxCD1-/-","β₂-M-/-","KxDxβ₂-M-/-"],"range":["square","triangle-down","M-1,-0.13H1V0.13H-1ZM-0.13,-1H0.13V1H-0.13ZM-0.628,-0.812L0.812,0.628L0.628,0.812L-0.812,-0.628ZM-0.628,0.812L-0.812,0.628L0.628,-0.812L0.812,-0.628Z","diamond","circle"]},"legend":null}}}
    ]},
   {"width":235,"height":157,"title":"Genome","data":{"name":"bc"},"transform":[{"filter":"datum.p=='BG'"}],
    "layer":[
     {"data":{"name":"thr"},"mark":{"type":"rule","color":"#9b9b9b","strokeWidth":1.5},"encoding":{"y":{"field":"t","type":"quantitative","scale":{"domain":[0,105],"nice":false,"zero":false},"axis":{"values":[0,20,40,60,80,100],"labelOverlap":false,"title":null}}}},
     {"mark":{"type":"rule","strokeWidth":1.3},"encoding":{"x":{"field":"x","type":"quantitative","scale":{"type":"log","domain":[10,100000],"nice":false}},"y":{"field":"lo","type":"quantitative","scale":{"domain":[0,105],"nice":false,"zero":false},"axis":{"values":[0,20,40,60,80,100],"labelOverlap":false,"title":null}},"y2":{"field":"hi"},"color":{"field":"s","type":"nominal","scale":{"domain":["B6","KxD-/-","KxDxCD1-/-","β₂-M-/-","KxDxβ₂-M-/-"],"range":["#000000","#f5a22a","#22b822","#b05ee8","#1010e8"]},"legend":null}}},
     {"mark":{"type":"tick","orient":"horizontal","size":10,"thickness":1.3},"encoding":{"x":{"field":"x","type":"quantitative","scale":{"type":"log","domain":[10,100000],"nice":false}},"y":{"field":"lo","type":"quantitative","scale":{"domain":[0,105],"nice":false,"zero":false},"axis":{"values":[0,20,40,60,80,100],"labelOverlap":false,"title":null}},"color":{"field":"s","type":"nominal","scale":{"domain":["B6","KxD-/-","KxDxCD1-/-","β₂-M-/-","KxDxβ₂-M-/-"],"range":["#000000","#f5a22a","#22b822","#b05ee8","#1010e8"]},"legend":null}}},
     {"mark":{"type":"tick","orient":"horizontal","size":10,"thickness":1.3},"encoding":{"x":{"field":"x","type":"quantitative","scale":{"type":"log","domain":[10,100000],"nice":false}},"y":{"field":"hi","type":"quantitative","scale":{"domain":[0,105],"nice":false,"zero":false},"axis":{"values":[0,20,40,60,80,100],"labelOverlap":false,"title":null}},"color":{"field":"s","type":"nominal","scale":{"domain":["B6","KxD-/-","KxDxCD1-/-","β₂-M-/-","KxDxβ₂-M-/-"],"range":["#000000","#f5a22a","#22b822","#b05ee8","#1010e8"]},"legend":null}}},
     {"data":{"name":"fit"},"transform":[{"filter":"datum.p=='BG'"}],"mark":{"type":"line","strokeWidth":2,"interpolate":"monotone"},"encoding":{"x":{"field":"x","type":"quantitative","scale":{"type":"log","domain":[10,100000],"nice":false}},"y":{"field":"y","type":"quantitative","scale":{"domain":[0,105],"nice":false,"zero":false},"axis":{"values":[0,20,40,60,80,100],"labelOverlap":false,"title":null}},"color":{"field":"s","type":"nominal","scale":{"domain":["B6","KxD-/-","KxDxCD1-/-","β₂-M-/-","KxDxβ₂-M-/-"],"range":["#000000","#f5a22a","#22b822","#b05ee8","#1010e8"]},"legend":null}}},
     {"mark":{"type":"point","filled":true,"size":130,"opacity":1},"encoding":{"x":{"field":"x","type":"quantitative","scale":{"type":"log","domain":[10,100000],"nice":false},"axis":{"values":[10,100,1000,10000,100000],"labelExpr":"'10' + ['¹','²','³','⁴','⁵'][round(log(datum.value)/LN10)-1]","labelFlush":false,"labelOverlap":false,"title":null}},"y":{"field":"y","type":"quantitative","scale":{"domain":[0,105],"nice":false,"zero":false},"axis":{"values":[0,20,40,60,80,100],"labelOverlap":false,"title":null}},"color":{"field":"s","type":"nominal","scale":{"domain":["B6","KxD-/-","KxDxCD1-/-","β₂-M-/-","KxDxβ₂-M-/-"],"range":["#000000","#f5a22a","#22b822","#b05ee8","#1010e8"]},"legend":null},"shape":{"field":"s","type":"nominal","scale":{"domain":["B6","KxD-/-","KxDxCD1-/-","β₂-M-/-","KxDxβ₂-M-/-"],"range":["square","triangle-down","M-1,-0.13H1V0.13H-1ZM-0.13,-1H0.13V1H-0.13ZM-0.628,-0.812L0.812,0.628L0.628,0.812L-0.812,-0.628ZM-0.628,0.812L-0.812,0.628L0.628,-0.812L0.812,-0.628Z","diamond","circle"]},"legend":null}}}
    ]},
   {"width":235,"height":157,"title":"Persistent Virus","data":{"name":"bc"},"transform":[{"filter":"datum.p=='BP'"}],
    "layer":[
     {"data":{"name":"thr"},"mark":{"type":"rule","color":"#9b9b9b","strokeWidth":1.5},"encoding":{"y":{"field":"t","type":"quantitative","scale":{"domain":[0,105],"nice":false,"zero":false},"axis":{"values":[0,20,40,60,80,100],"labelOverlap":false,"title":null}}}},
     {"mark":{"type":"rule","strokeWidth":1.3},"encoding":{"x":{"field":"x","type":"quantitative","scale":{"type":"log","domain":[10,100000],"nice":false}},"y":{"field":"lo","type":"quantitative","scale":{"domain":[0,105],"nice":false,"zero":false},"axis":{"values":[0,20,40,60,80,100],"labelOverlap":false,"title":null}},"y2":{"field":"hi"},"color":{"field":"s","type":"nominal","scale":{"domain":["B6","KxD-/-","KxDxCD1-/-","β₂-M-/-","KxDxβ₂-M-/-"],"range":["#000000","#f5a22a","#22b822","#b05ee8","#1010e8"]},"legend":null}}},
     {"mark":{"type":"tick","orient":"horizontal","size":10,"thickness":1.3},"encoding":{"x":{"field":"x","type":"quantitative","scale":{"type":"log","domain":[10,100000],"nice":false}},"y":{"field":"lo","type":"quantitative","scale":{"domain":[0,105],"nice":false,"zero":false},"axis":{"values":[0,20,40,60,80,100],"labelOverlap":false,"title":null}},"color":{"field":"s","type":"nominal","scale":{"domain":["B6","KxD-/-","KxDxCD1-/-","β₂-M-/-","KxDxβ₂-M-/-"],"range":["#000000","#f5a22a","#22b822","#b05ee8","#1010e8"]},"legend":null}}},
     {"mark":{"type":"tick","orient":"horizontal","size":10,"thickness":1.3},"encoding":{"x":{"field":"x","type":"quantitative","scale":{"type":"log","domain":[10,100000],"nice":false}},"y":{"field":"hi","type":"quantitative","scale":{"domain":[0,105],"nice":false,"zero":false},"axis":{"values":[0,20,40,60,80,100],"labelOverlap":false,"title":null}},"color":{"field":"s","type":"nominal","scale":{"domain":["B6","KxD-/-","KxDxCD1-/-","β₂-M-/-","KxDxβ₂-M-/-"],"range":["#000000","#f5a22a","#22b822","#b05ee8","#1010e8"]},"legend":null}}},
     {"mark":{"type":"line","strokeWidth":2},"encoding":{"x":{"field":"x","type":"quantitative","scale":{"type":"log","domain":[10,100000],"nice":false}},"y":{"field":"y","type":"quantitative","scale":{"domain":[0,105],"nice":false,"zero":false},"axis":{"values":[0,20,40,60,80,100],"labelOverlap":false,"title":null}},"color":{"field":"s","type":"nominal","scale":{"domain":["B6","KxD-/-","KxDxCD1-/-","β₂-M-/-","KxDxβ₂-M-/-"],"range":["#000000","#f5a22a","#22b822","#b05ee8","#1010e8"]},"legend":null}}},
     {"transform":[{"filter":{"field":"s","oneOf":["B6","KxD-/-"]}}],"mark":{"type":"point","filled":false,"fill":"white","size":110,"strokeWidth":1.8,"opacity":1},"encoding":{"x":{"field":"x","type":"quantitative","scale":{"type":"log","domain":[10,100000],"nice":false},"axis":{"values":[10,100,1000,10000,100000],"labelExpr":"'10' + ['¹','²','³','⁴','⁵'][round(log(datum.value)/LN10)-1]","labelFlush":false,"labelOverlap":false,"title":null}},"y":{"field":"y","type":"quantitative","scale":{"domain":[0,105],"nice":false,"zero":false},"axis":{"values":[0,20,40,60,80,100],"labelOverlap":false,"title":null}},"color":{"field":"s","type":"nominal","scale":{"domain":["B6","KxD-/-","KxDxCD1-/-","β₂-M-/-","KxDxβ₂-M-/-"],"range":["#000000","#f5a22a","#22b822","#b05ee8","#1010e8"]},"legend":null},"shape":{"field":"s","type":"nominal","scale":{"domain":["B6","KxD-/-","KxDxCD1-/-","β₂-M-/-","KxDxβ₂-M-/-"],"range":["square","triangle-down","square","diamond","circle"]},"legend":null}}},
     {"transform":[{"filter":{"field":"s","oneOf":["KxDxCD1-/-"]}}],"mark":{"type":"point","filled":true,"size":95,"stroke":"#1a1a1a","strokeWidth":1.2,"opacity":1},"encoding":{"x":{"field":"x","type":"quantitative","scale":{"type":"log","domain":[10,100000],"nice":false}},"y":{"field":"y","type":"quantitative","scale":{"domain":[0,105],"nice":false,"zero":false},"axis":{"values":[0,20,40,60,80,100],"labelOverlap":false,"title":null}},"color":{"field":"s","type":"nominal","scale":{"domain":["B6","KxD-/-","KxDxCD1-/-","β₂-M-/-","KxDxβ₂-M-/-"],"range":["#000000","#f5a22a","#22b822","#b05ee8","#1010e8"]},"legend":null},"shape":{"field":"s","type":"nominal","scale":{"domain":["B6","KxD-/-","KxDxCD1-/-","β₂-M-/-","KxDxβ₂-M-/-"],"range":["square","triangle-down","square","diamond","circle"]},"legend":null}}},
     {"transform":[{"filter":{"field":"s","oneOf":["β₂-M-/-","KxDxβ₂-M-/-"]}}],"mark":{"type":"point","filled":false,"fill":"white","size":140,"strokeWidth":2,"opacity":1},"encoding":{"x":{"field":"x","type":"quantitative","scale":{"type":"log","domain":[10,100000],"nice":false}},"y":{"field":"y","type":"quantitative","scale":{"domain":[0,105],"nice":false,"zero":false},"axis":{"values":[0,20,40,60,80,100],"labelOverlap":false,"title":null}},"color":{"field":"s","type":"nominal","scale":{"domain":["B6","KxD-/-","KxDxCD1-/-","β₂-M-/-","KxDxβ₂-M-/-"],"range":["#000000","#f5a22a","#22b822","#b05ee8","#1010e8"]},"legend":null},"shape":{"field":"s","type":"nominal","scale":{"domain":["B6","KxD-/-","KxDxCD1-/-","β₂-M-/-","KxDxβ₂-M-/-"],"range":["square","triangle-down","square","diamond","circle"]},"legend":null}}}
    ]}
  ]
 },
 {
  "title":{"text":"C","anchor":"start","frame":"bounds","fontSize":17,"dy":12,"offset":0},
  "bounds":"flush",
  "spacing":60,
  "resolve":{"scale":{"color":"independent","shape":"independent"}},
  "hconcat":[
   {"width":235,"height":157,"data":{"name":"bc"},"transform":[{"filter":"datum.p=='CR'"}],
    "layer":[
     {"data":{"name":"thr"},"mark":{"type":"rule","color":"#9b9b9b","strokeWidth":1.5},"encoding":{"y":{"field":"t","type":"quantitative","scale":{"domain":[0,105],"nice":false,"zero":false},"axis":{"values":[0,20,40,60,80,100],"labelOverlap":false,"title":"% wells positive","titleFontSize":17,"titleFontWeight":"normal","titlePadding":8}}}},
     {"mark":{"type":"rule","strokeWidth":1.3},"encoding":{"x":{"field":"x","type":"quantitative","scale":{"type":"log","domain":[10,100000],"nice":false}},"y":{"field":"lo","type":"quantitative","scale":{"domain":[0,105],"nice":false,"zero":false},"axis":{"values":[0,20,40,60,80,100],"labelOverlap":false,"title":"% wells positive","titleFontSize":17,"titleFontWeight":"normal","titlePadding":8}},"y2":{"field":"hi"},"color":{"field":"s","type":"nominal","scale":{"domain":["B6","KxD-/-","KxDxCD1-/-","β₂-M-/-","KxDxβ₂-M-/-"],"range":["#000000","#f5a22a","#22b822","#b05ee8","#1010e8"]},"legend":null}}},
     {"mark":{"type":"tick","orient":"horizontal","size":10,"thickness":1.3},"encoding":{"x":{"field":"x","type":"quantitative","scale":{"type":"log","domain":[10,100000],"nice":false}},"y":{"field":"lo","type":"quantitative","scale":{"domain":[0,105],"nice":false,"zero":false},"axis":{"values":[0,20,40,60,80,100],"labelOverlap":false,"title":"% wells positive","titleFontSize":17,"titleFontWeight":"normal","titlePadding":8}},"color":{"field":"s","type":"nominal","scale":{"domain":["B6","KxD-/-","KxDxCD1-/-","β₂-M-/-","KxDxβ₂-M-/-"],"range":["#000000","#f5a22a","#22b822","#b05ee8","#1010e8"]},"legend":null}}},
     {"mark":{"type":"tick","orient":"horizontal","size":10,"thickness":1.3},"encoding":{"x":{"field":"x","type":"quantitative","scale":{"type":"log","domain":[10,100000],"nice":false}},"y":{"field":"hi","type":"quantitative","scale":{"domain":[0,105],"nice":false,"zero":false},"axis":{"values":[0,20,40,60,80,100],"labelOverlap":false,"title":"% wells positive","titleFontSize":17,"titleFontWeight":"normal","titlePadding":8}},"color":{"field":"s","type":"nominal","scale":{"domain":["B6","KxD-/-","KxDxCD1-/-","β₂-M-/-","KxDxβ₂-M-/-"],"range":["#000000","#f5a22a","#22b822","#b05ee8","#1010e8"]},"legend":null}}},
     {"mark":{"type":"line","strokeWidth":2},"encoding":{"x":{"field":"x","type":"quantitative","scale":{"type":"log","domain":[10,100000],"nice":false}},"y":{"field":"y","type":"quantitative","scale":{"domain":[0,105],"nice":false,"zero":false},"axis":{"values":[0,20,40,60,80,100],"labelOverlap":false,"title":"% wells positive","titleFontSize":17,"titleFontWeight":"normal","titlePadding":8}},"color":{"field":"s","type":"nominal","scale":{"domain":["B6","KxD-/-","KxDxCD1-/-","β₂-M-/-","KxDxβ₂-M-/-"],"range":["#000000","#f5a22a","#22b822","#b05ee8","#1010e8"]},"legend":null}}},
     {"mark":{"type":"point","filled":true,"size":130,"opacity":1},"encoding":{"x":{"field":"x","type":"quantitative","scale":{"type":"log","domain":[10,100000],"nice":false},"axis":{"values":[10,100,1000,10000,100000],"labelExpr":"'10' + ['¹','²','³','⁴','⁵'][round(log(datum.value)/LN10)-1]","labelFlush":false,"labelOverlap":false,"title":"cells/well","titleFontSize":15,"titleFontWeight":"normal","titlePadding":25}},"y":{"field":"y","type":"quantitative","scale":{"domain":[0,105],"nice":false,"zero":false},"axis":{"values":[0,20,40,60,80,100],"labelOverlap":false,"title":"% wells positive","titleFontSize":17,"titleFontWeight":"normal","titlePadding":8}},"color":{"field":"s","type":"nominal","scale":{"domain":["B6","KxD-/-","KxDxCD1-/-","β₂-M-/-","KxDxβ₂-M-/-"],"range":["#000000","#f5a22a","#22b822","#b05ee8","#1010e8"]},"legend":null},"shape":{"field":"s","type":"nominal","scale":{"domain":["B6","KxD-/-","KxDxCD1-/-","β₂-M-/-","KxDxβ₂-M-/-"],"range":["square","triangle-down","M-1,-0.13H1V0.13H-1ZM-0.13,-1H0.13V1H-0.13ZM-0.628,-0.812L0.812,0.628L0.628,0.812L-0.812,-0.628ZM-0.628,0.812L-0.812,0.628L0.628,-0.812L0.812,-0.628Z","diamond","circle"]},"legend":null}}}
    ]},
   {"width":235,"height":157,"data":{"name":"bc"},"transform":[{"filter":"datum.p=='CG'"}],
    "resolve":{"scale":{"color":"independent","shape":"independent"}},
    "layer":[
     {"data":{"name":"thr"},"mark":{"type":"rule","color":"#9b9b9b","strokeWidth":1.5},"encoding":{"y":{"field":"t","type":"quantitative","scale":{"domain":[0,105],"nice":false,"zero":false},"axis":{"values":[0,20,40,60,80,100],"labelOverlap":false,"title":null}}}},
     {"mark":{"type":"rule","strokeWidth":1.3},"encoding":{"x":{"field":"x","type":"quantitative","scale":{"type":"log","domain":[10,100000],"nice":false}},"y":{"field":"lo","type":"quantitative","scale":{"domain":[0,105],"nice":false,"zero":false},"axis":{"values":[0,20,40,60,80,100],"labelOverlap":false,"title":null}},"y2":{"field":"hi"},"color":{"field":"s","type":"nominal","scale":{"domain":["B6","KxD-/-","KxDxCD1-/-","β₂-M-/-","KxDxβ₂-M-/-"],"range":["#000000","#f5a22a","#22b822","#b05ee8","#1010e8"]},"legend":null}}},
     {"mark":{"type":"tick","orient":"horizontal","size":10,"thickness":1.3},"encoding":{"x":{"field":"x","type":"quantitative","scale":{"type":"log","domain":[10,100000],"nice":false}},"y":{"field":"lo","type":"quantitative","scale":{"domain":[0,105],"nice":false,"zero":false},"axis":{"values":[0,20,40,60,80,100],"labelOverlap":false,"title":null}},"color":{"field":"s","type":"nominal","scale":{"domain":["B6","KxD-/-","KxDxCD1-/-","β₂-M-/-","KxDxβ₂-M-/-"],"range":["#000000","#f5a22a","#22b822","#b05ee8","#1010e8"]},"legend":null}}},
     {"mark":{"type":"tick","orient":"horizontal","size":10,"thickness":1.3},"encoding":{"x":{"field":"x","type":"quantitative","scale":{"type":"log","domain":[10,100000],"nice":false}},"y":{"field":"hi","type":"quantitative","scale":{"domain":[0,105],"nice":false,"zero":false},"axis":{"values":[0,20,40,60,80,100],"labelOverlap":false,"title":null}},"color":{"field":"s","type":"nominal","scale":{"domain":["B6","KxD-/-","KxDxCD1-/-","β₂-M-/-","KxDxβ₂-M-/-"],"range":["#000000","#f5a22a","#22b822","#b05ee8","#1010e8"]},"legend":null}}},
     {"data":{"name":"fit"},"transform":[{"filter":"datum.p=='CG'"}],"mark":{"type":"line","strokeWidth":2,"interpolate":"monotone"},"encoding":{"x":{"field":"x","type":"quantitative","scale":{"type":"log","domain":[10,100000],"nice":false}},"y":{"field":"y","type":"quantitative","scale":{"domain":[0,105],"nice":false,"zero":false},"axis":{"values":[0,20,40,60,80,100],"labelOverlap":false,"title":null}},"color":{"field":"s","type":"nominal","scale":{"domain":["B6","KxD-/-","KxDxCD1-/-","β₂-M-/-","KxDxβ₂-M-/-"],"range":["#000000","#f5a22a","#22b822","#b05ee8","#1010e8"]},"legend":null}}},
     {"mark":{"type":"point","filled":true,"size":130,"opacity":1},"encoding":{"x":{"field":"x","type":"quantitative","scale":{"type":"log","domain":[10,100000],"nice":false},"axis":{"values":[10,100,1000,10000,100000],"labelExpr":"'10' + ['¹','²','³','⁴','⁵'][round(log(datum.value)/LN10)-1]","labelFlush":false,"labelOverlap":false,"title":"cells/well","titleFontSize":15,"titleFontWeight":"normal","titlePadding":25}},"y":{"field":"y","type":"quantitative","scale":{"domain":[0,105],"nice":false,"zero":false},"axis":{"values":[0,20,40,60,80,100],"labelOverlap":false,"title":null}},"color":{"field":"s","type":"nominal","scale":{"domain":["B6","KxD-/-","KxDxCD1-/-","β₂-M-/-","KxDxβ₂-M-/-"],"range":["#000000","#f5a22a","#22b822","#b05ee8","#1010e8"]},"legend":null},"shape":{"field":"s","type":"nominal","scale":{"domain":["B6","KxD-/-","KxDxCD1-/-","β₂-M-/-","KxDxβ₂-M-/-"],"range":["square","triangle-down","M-1,-0.13H1V0.13H-1ZM-0.13,-1H0.13V1H-0.13ZM-0.628,-0.812L0.812,0.628L0.628,0.812L-0.812,-0.628ZM-0.628,0.812L-0.812,0.628L0.628,-0.812L0.812,-0.628Z","diamond","circle"]},"legend":null}}},
     {"transform":[{"filter":"datum.x < 0"}],"mark":{"type":"point","filled":true},"encoding":{
       "color":{"field":"s","type":"nominal","scale":{"domain":["B6","KxD-/-","KxDxCD1-/-","β₂-M-/-"," ","KxDxβ₂-M-/-"],"range":["#000000","#f5a22a","#22b822","#b05ee8","rgba(0,0,0,0)","#1010e8"]},"legend":{"title":null,"orient":"none","legendX":-68,"legendY":241,"columns":2,"symbolSize":196,"symbolOpacity":1,"symbolStrokeWidth":0,"symbolOffset":-6,"labelFontSize":23,"labelFontWeight":"bold","labelColor":"#000000","labelOffset":6,"labelLimit":400,"strokeColor":"#000000","fillColor":"white","padding":11,"rowPadding":7,"columnPadding":4,"encode":{"legend":{"update":{"strokeWidth":{"value":2.5}}}}}},
       "shape":{"field":"s","type":"nominal","scale":{"domain":["B6","KxD-/-","KxDxCD1-/-","β₂-M-/-"," ","KxDxβ₂-M-/-"],"range":["M-1.95,-0.14H1.95V0.14H-1.95ZM-0.8,-0.8H0.8V0.8H-0.8Z","M-1.95,-0.14H1.95V0.14H-1.95ZM-0.95,-0.72H0.95L0,0.9Z","M-1.95,-0.14H1.95V0.14H-1.95ZM-1,-0.13H1V0.13H-1ZM-0.13,-1H0.13V1H-0.13ZM-0.628,-0.812L0.812,0.628L0.628,0.812L-0.812,-0.628ZM-0.628,0.812L-0.812,0.628L0.628,-0.812L0.812,-0.628Z","M-1.95,-0.14H1.95V0.14H-1.95ZM0,-0.95L0.95,0L0,0.95L-0.95,0Z","M-1.95,-0.14H1.95V0.14H-1.95Z","M-1.95,-0.14H1.95V0.14H-1.95ZM-0.88,0A0.88,0.88,0,1,1,0.88,0A0.88,0.88,0,1,1,-0.88,0Z"]},"legend":{"title":null,"orient":"none","legendX":-68,"legendY":241,"columns":2,"symbolSize":196,"symbolOpacity":1,"symbolStrokeWidth":0,"symbolOffset":-6,"labelFontSize":23,"labelFontWeight":"bold","labelColor":"#000000","labelOffset":6,"labelLimit":400,"strokeColor":"#000000","fillColor":"white","padding":11,"rowPadding":7,"columnPadding":4,"encode":{"legend":{"update":{"strokeWidth":{"value":2.5}}}}}}}}
    ]},
   {"width":235,"height":157,"data":{"name":"bc"},"transform":[{"filter":"datum.p=='CP'"}],
    "layer":[
     {"data":{"name":"thr"},"mark":{"type":"rule","color":"#9b9b9b","strokeWidth":1.5},"encoding":{"y":{"field":"t","type":"quantitative","scale":{"domain":[0,105],"nice":false,"zero":false},"axis":{"values":[0,20,40,60,80,100],"labelOverlap":false,"title":null}}}},
     {"mark":{"type":"rule","strokeWidth":1.3},"encoding":{"x":{"field":"x","type":"quantitative","scale":{"type":"log","domain":[10,100000],"nice":false}},"y":{"field":"lo","type":"quantitative","scale":{"domain":[0,105],"nice":false,"zero":false},"axis":{"values":[0,20,40,60,80,100],"labelOverlap":false,"title":null}},"y2":{"field":"hi"},"color":{"field":"s","type":"nominal","scale":{"domain":["B6","KxD-/-","KxDxCD1-/-","β₂-M-/-","KxDxβ₂-M-/-"],"range":["#000000","#f5a22a","#22b822","#b05ee8","#1010e8"]},"legend":null}}},
     {"mark":{"type":"tick","orient":"horizontal","size":10,"thickness":1.3},"encoding":{"x":{"field":"x","type":"quantitative","scale":{"type":"log","domain":[10,100000],"nice":false}},"y":{"field":"lo","type":"quantitative","scale":{"domain":[0,105],"nice":false,"zero":false},"axis":{"values":[0,20,40,60,80,100],"labelOverlap":false,"title":null}},"color":{"field":"s","type":"nominal","scale":{"domain":["B6","KxD-/-","KxDxCD1-/-","β₂-M-/-","KxDxβ₂-M-/-"],"range":["#000000","#f5a22a","#22b822","#b05ee8","#1010e8"]},"legend":null}}},
     {"mark":{"type":"tick","orient":"horizontal","size":10,"thickness":1.3},"encoding":{"x":{"field":"x","type":"quantitative","scale":{"type":"log","domain":[10,100000],"nice":false}},"y":{"field":"hi","type":"quantitative","scale":{"domain":[0,105],"nice":false,"zero":false},"axis":{"values":[0,20,40,60,80,100],"labelOverlap":false,"title":null}},"color":{"field":"s","type":"nominal","scale":{"domain":["B6","KxD-/-","KxDxCD1-/-","β₂-M-/-","KxDxβ₂-M-/-"],"range":["#000000","#f5a22a","#22b822","#b05ee8","#1010e8"]},"legend":null}}},
     {"mark":{"type":"line","strokeWidth":2},"encoding":{"x":{"field":"x","type":"quantitative","scale":{"type":"log","domain":[10,100000],"nice":false}},"y":{"field":"y","type":"quantitative","scale":{"domain":[0,105],"nice":false,"zero":false},"axis":{"values":[0,20,40,60,80,100],"labelOverlap":false,"title":null}},"color":{"field":"s","type":"nominal","scale":{"domain":["B6","KxD-/-","KxDxCD1-/-","β₂-M-/-","KxDxβ₂-M-/-"],"range":["#000000","#f5a22a","#22b822","#b05ee8","#1010e8"]},"legend":null}}},
     {"transform":[{"filter":{"field":"s","oneOf":["B6","KxD-/-"]}}],"mark":{"type":"point","filled":false,"fill":"white","size":110,"strokeWidth":1.8,"opacity":1},"encoding":{"x":{"field":"x","type":"quantitative","scale":{"type":"log","domain":[10,100000],"nice":false},"axis":{"values":[10,100,1000,10000,100000],"labelExpr":"'10' + ['¹','²','³','⁴','⁵'][round(log(datum.value)/LN10)-1]","labelFlush":false,"labelOverlap":false,"title":"cells/well","titleFontSize":15,"titleFontWeight":"normal","titlePadding":25}},"y":{"field":"y","type":"quantitative","scale":{"domain":[0,105],"nice":false,"zero":false},"axis":{"values":[0,20,40,60,80,100],"labelOverlap":false,"title":null}},"color":{"field":"s","type":"nominal","scale":{"domain":["B6","KxD-/-","KxDxCD1-/-","β₂-M-/-","KxDxβ₂-M-/-"],"range":["#000000","#f5a22a","#22b822","#b05ee8","#1010e8"]},"legend":null},"shape":{"field":"s","type":"nominal","scale":{"domain":["B6","KxD-/-","KxDxCD1-/-","β₂-M-/-","KxDxβ₂-M-/-"],"range":["square","triangle-down","square","diamond","circle"]},"legend":null}}},
     {"transform":[{"filter":{"field":"s","oneOf":["KxDxCD1-/-"]}}],"mark":{"type":"point","filled":true,"size":95,"stroke":"#1a1a1a","strokeWidth":1.2,"opacity":1},"encoding":{"x":{"field":"x","type":"quantitative","scale":{"type":"log","domain":[10,100000],"nice":false}},"y":{"field":"y","type":"quantitative","scale":{"domain":[0,105],"nice":false,"zero":false},"axis":{"values":[0,20,40,60,80,100],"labelOverlap":false,"title":null}},"color":{"field":"s","type":"nominal","scale":{"domain":["B6","KxD-/-","KxDxCD1-/-","β₂-M-/-","KxDxβ₂-M-/-"],"range":["#000000","#f5a22a","#22b822","#b05ee8","#1010e8"]},"legend":null},"shape":{"field":"s","type":"nominal","scale":{"domain":["B6","KxD-/-","KxDxCD1-/-","β₂-M-/-","KxDxβ₂-M-/-"],"range":["square","triangle-down","square","diamond","circle"]},"legend":null}}},
     {"transform":[{"filter":{"field":"s","oneOf":["β₂-M-/-","KxDxβ₂-M-/-"]}}],"mark":{"type":"point","filled":false,"fill":"white","size":140,"strokeWidth":2,"opacity":1},"encoding":{"x":{"field":"x","type":"quantitative","scale":{"type":"log","domain":[10,100000],"nice":false}},"y":{"field":"y","type":"quantitative","scale":{"domain":[0,105],"nice":false,"zero":false},"axis":{"values":[0,20,40,60,80,100],"labelOverlap":false,"title":null}},"color":{"field":"s","type":"nominal","scale":{"domain":["B6","KxD-/-","KxDxCD1-/-","β₂-M-/-","KxDxβ₂-M-/-"],"range":["#000000","#f5a22a","#22b822","#b05ee8","#1010e8"]},"legend":null},"shape":{"field":"s","type":"nominal","scale":{"domain":["B6","KxD-/-","KxDxCD1-/-","β₂-M-/-","KxDxβ₂-M-/-"],"range":["square","triangle-down","square","diamond","circle"]},"legend":null}}}
    ]}
  ]
 },
 {
  "title":{"text":"D","anchor":"start","frame":"bounds","fontSize":17,"dy":34,"offset":0},
  "bounds":"flush",
  "spacing":60,
  "resolve":{"scale":{"color":"independent","shape":"independent"}},
  "hconcat":[
   {"width":235,"height":157,"title":"Reactivation","data":{"name":"de"},"transform":[{"filter":"datum.p=='DR'"}],
    "layer":[
     {"data":{"name":"thr"},"mark":{"type":"rule","color":"#9b9b9b","strokeWidth":1.5},"encoding":{"y":{"field":"t","type":"quantitative","scale":{"domain":[0,105],"nice":false,"zero":false},"axis":{"values":[0,20,40,60,80,100],"labelOverlap":false,"title":"% wells positive","titleFontSize":17,"titleFontWeight":"normal","titlePadding":8}}}},
     {"mark":{"type":"rule","strokeWidth":1.3},"encoding":{"x":{"field":"x","type":"quantitative","scale":{"type":"log","domain":[10,100000],"nice":false}},"y":{"field":"lo","type":"quantitative","scale":{"domain":[0,105],"nice":false,"zero":false},"axis":{"values":[0,20,40,60,80,100],"labelOverlap":false,"title":"% wells positive","titleFontSize":17,"titleFontWeight":"normal","titlePadding":8}},"y2":{"field":"hi"},"color":{"field":"s","type":"nominal","scale":{"domain":["control Ab","anti-CD8 Ab","untreated"],"range":["#1414e0","#f01818","#000000"]},"legend":null}}},
     {"mark":{"type":"tick","orient":"horizontal","size":10,"thickness":1.3},"encoding":{"x":{"field":"x","type":"quantitative","scale":{"type":"log","domain":[10,100000],"nice":false}},"y":{"field":"lo","type":"quantitative","scale":{"domain":[0,105],"nice":false,"zero":false},"axis":{"values":[0,20,40,60,80,100],"labelOverlap":false,"title":"% wells positive","titleFontSize":17,"titleFontWeight":"normal","titlePadding":8}},"color":{"field":"s","type":"nominal","scale":{"domain":["control Ab","anti-CD8 Ab","untreated"],"range":["#1414e0","#f01818","#000000"]},"legend":null}}},
     {"mark":{"type":"tick","orient":"horizontal","size":10,"thickness":1.3},"encoding":{"x":{"field":"x","type":"quantitative","scale":{"type":"log","domain":[10,100000],"nice":false}},"y":{"field":"hi","type":"quantitative","scale":{"domain":[0,105],"nice":false,"zero":false},"axis":{"values":[0,20,40,60,80,100],"labelOverlap":false,"title":"% wells positive","titleFontSize":17,"titleFontWeight":"normal","titlePadding":8}},"color":{"field":"s","type":"nominal","scale":{"domain":["control Ab","anti-CD8 Ab","untreated"],"range":["#1414e0","#f01818","#000000"]},"legend":null}}},
     {"mark":{"type":"line","strokeWidth":2},"encoding":{"x":{"field":"x","type":"quantitative","scale":{"type":"log","domain":[10,100000],"nice":false}},"y":{"field":"y","type":"quantitative","scale":{"domain":[0,105],"nice":false,"zero":false},"axis":{"values":[0,20,40,60,80,100],"labelOverlap":false,"title":"% wells positive","titleFontSize":17,"titleFontWeight":"normal","titlePadding":8}},"color":{"field":"s","type":"nominal","scale":{"domain":["control Ab","anti-CD8 Ab","untreated"],"range":["#1414e0","#f01818","#000000"]},"legend":null}}},
     {"mark":{"type":"point","filled":true,"size":130,"opacity":1},"encoding":{"x":{"field":"x","type":"quantitative","scale":{"type":"log","domain":[10,100000],"nice":false},"axis":{"values":[10,100,1000,10000,100000],"labelExpr":"'10' + ['¹','²','³','⁴','⁵'][round(log(datum.value)/LN10)-1]","labelFlush":false,"labelOverlap":false,"title":null}},"y":{"field":"y","type":"quantitative","scale":{"domain":[0,105],"nice":false,"zero":false},"axis":{"values":[0,20,40,60,80,100],"labelOverlap":false,"title":"% wells positive","titleFontSize":17,"titleFontWeight":"normal","titlePadding":8}},"color":{"field":"s","type":"nominal","scale":{"domain":["control Ab","anti-CD8 Ab","untreated"],"range":["#1414e0","#f01818","#000000"]},"legend":null},"shape":{"field":"s","type":"nominal","scale":{"domain":["control Ab","anti-CD8 Ab","untreated"],"range":["diamond","circle","triangle-down"]},"legend":null}}}
    ]},
   {"width":235,"height":157,"title":"Genome","data":{"name":"de"},"transform":[{"filter":"datum.p=='DG'"}],
    "layer":[
     {"data":{"name":"thr"},"mark":{"type":"rule","color":"#9b9b9b","strokeWidth":1.5},"encoding":{"y":{"field":"t","type":"quantitative","scale":{"domain":[0,105],"nice":false,"zero":false},"axis":{"values":[0,20,40,60,80,100],"labelOverlap":false,"title":null}}}},
     {"mark":{"type":"rule","strokeWidth":1.3},"encoding":{"x":{"field":"x","type":"quantitative","scale":{"type":"log","domain":[10,100000],"nice":false}},"y":{"field":"lo","type":"quantitative","scale":{"domain":[0,105],"nice":false,"zero":false},"axis":{"values":[0,20,40,60,80,100],"labelOverlap":false,"title":null}},"y2":{"field":"hi"},"color":{"field":"s","type":"nominal","scale":{"domain":["control Ab","anti-CD8 Ab","untreated"],"range":["#1414e0","#f01818","#000000"]},"legend":null}}},
     {"mark":{"type":"tick","orient":"horizontal","size":10,"thickness":1.3},"encoding":{"x":{"field":"x","type":"quantitative","scale":{"type":"log","domain":[10,100000],"nice":false}},"y":{"field":"lo","type":"quantitative","scale":{"domain":[0,105],"nice":false,"zero":false},"axis":{"values":[0,20,40,60,80,100],"labelOverlap":false,"title":null}},"color":{"field":"s","type":"nominal","scale":{"domain":["control Ab","anti-CD8 Ab","untreated"],"range":["#1414e0","#f01818","#000000"]},"legend":null}}},
     {"mark":{"type":"tick","orient":"horizontal","size":10,"thickness":1.3},"encoding":{"x":{"field":"x","type":"quantitative","scale":{"type":"log","domain":[10,100000],"nice":false}},"y":{"field":"hi","type":"quantitative","scale":{"domain":[0,105],"nice":false,"zero":false},"axis":{"values":[0,20,40,60,80,100],"labelOverlap":false,"title":null}},"color":{"field":"s","type":"nominal","scale":{"domain":["control Ab","anti-CD8 Ab","untreated"],"range":["#1414e0","#f01818","#000000"]},"legend":null}}},
     {"data":{"name":"fit"},"transform":[{"filter":"datum.p=='DG'"}],"mark":{"type":"line","strokeWidth":2,"interpolate":"monotone"},"encoding":{"x":{"field":"x","type":"quantitative","scale":{"type":"log","domain":[10,100000],"nice":false}},"y":{"field":"y","type":"quantitative","scale":{"domain":[0,105],"nice":false,"zero":false},"axis":{"values":[0,20,40,60,80,100],"labelOverlap":false,"title":null}},"color":{"field":"s","type":"nominal","scale":{"domain":["control Ab","anti-CD8 Ab","untreated"],"range":["#1414e0","#f01818","#000000"]},"legend":null}}},
     {"mark":{"type":"point","filled":true,"size":130,"opacity":1},"encoding":{"x":{"field":"x","type":"quantitative","scale":{"type":"log","domain":[10,100000],"nice":false},"axis":{"values":[10,100,1000,10000,100000],"labelExpr":"'10' + ['¹','²','³','⁴','⁵'][round(log(datum.value)/LN10)-1]","labelFlush":false,"labelOverlap":false,"title":null}},"y":{"field":"y","type":"quantitative","scale":{"domain":[0,105],"nice":false,"zero":false},"axis":{"values":[0,20,40,60,80,100],"labelOverlap":false,"title":null}},"color":{"field":"s","type":"nominal","scale":{"domain":["control Ab","anti-CD8 Ab","untreated"],"range":["#1414e0","#f01818","#000000"]},"legend":null},"shape":{"field":"s","type":"nominal","scale":{"domain":["control Ab","anti-CD8 Ab","untreated"],"range":["diamond","circle","triangle-down"]},"legend":null}}}
    ]},
   {"width":235,"height":157,"title":"Persistent Virus","data":{"name":"de"},"transform":[{"filter":"datum.p=='DP'"}],
    "layer":[
     {"data":{"name":"thr"},"mark":{"type":"rule","color":"#9b9b9b","strokeWidth":1.5},"encoding":{"y":{"field":"t","type":"quantitative","scale":{"domain":[0,105],"nice":false,"zero":false},"axis":{"values":[0,20,40,60,80,100],"labelOverlap":false,"title":null}}}},
     {"mark":{"type":"rule","strokeWidth":1.3},"encoding":{"x":{"field":"x","type":"quantitative","scale":{"type":"log","domain":[10,100000],"nice":false}},"y":{"field":"lo","type":"quantitative","scale":{"domain":[0,105],"nice":false,"zero":false},"axis":{"values":[0,20,40,60,80,100],"labelOverlap":false,"title":null}},"y2":{"field":"hi"},"color":{"field":"s","type":"nominal","scale":{"domain":["control Ab","anti-CD8 Ab","untreated"],"range":["#1414e0","#f01818","#000000"]},"legend":null}}},
     {"mark":{"type":"tick","orient":"horizontal","size":10,"thickness":1.3},"encoding":{"x":{"field":"x","type":"quantitative","scale":{"type":"log","domain":[10,100000],"nice":false}},"y":{"field":"lo","type":"quantitative","scale":{"domain":[0,105],"nice":false,"zero":false},"axis":{"values":[0,20,40,60,80,100],"labelOverlap":false,"title":null}},"color":{"field":"s","type":"nominal","scale":{"domain":["control Ab","anti-CD8 Ab","untreated"],"range":["#1414e0","#f01818","#000000"]},"legend":null}}},
     {"mark":{"type":"tick","orient":"horizontal","size":10,"thickness":1.3},"encoding":{"x":{"field":"x","type":"quantitative","scale":{"type":"log","domain":[10,100000],"nice":false}},"y":{"field":"hi","type":"quantitative","scale":{"domain":[0,105],"nice":false,"zero":false},"axis":{"values":[0,20,40,60,80,100],"labelOverlap":false,"title":null}},"color":{"field":"s","type":"nominal","scale":{"domain":["control Ab","anti-CD8 Ab","untreated"],"range":["#1414e0","#f01818","#000000"]},"legend":null}}},
     {"mark":{"type":"line","strokeWidth":2},"encoding":{"x":{"field":"x","type":"quantitative","scale":{"type":"log","domain":[10,100000],"nice":false}},"y":{"field":"y","type":"quantitative","scale":{"domain":[0,105],"nice":false,"zero":false},"axis":{"values":[0,20,40,60,80,100],"labelOverlap":false,"title":null}},"color":{"field":"s","type":"nominal","scale":{"domain":["control Ab","anti-CD8 Ab","untreated"],"range":["#1414e0","#f01818","#000000"]},"legend":null}}},
     {"mark":{"type":"point","filled":false,"fill":"white","size":140,"strokeWidth":2,"opacity":1},"encoding":{"x":{"field":"x","type":"quantitative","scale":{"type":"log","domain":[10,100000],"nice":false},"axis":{"values":[10,100,1000,10000,100000],"labelExpr":"'10' + ['¹','²','³','⁴','⁵'][round(log(datum.value)/LN10)-1]","labelFlush":false,"labelOverlap":false,"title":null}},"y":{"field":"y","type":"quantitative","scale":{"domain":[0,105],"nice":false,"zero":false},"axis":{"values":[0,20,40,60,80,100],"labelOverlap":false,"title":null}},"color":{"field":"s","type":"nominal","scale":{"domain":["control Ab","anti-CD8 Ab","untreated"],"range":["#1414e0","#f01818","#000000"]},"legend":null},"shape":{"field":"s","type":"nominal","scale":{"domain":["control Ab","anti-CD8 Ab","untreated"],"range":["diamond","circle","triangle-down"]},"legend":null}}}
    ]}
  ]
 },
 {
  "title":{"text":"E","anchor":"start","frame":"bounds","fontSize":17,"dy":10,"offset":0},
  "bounds":"flush",
  "spacing":60,
  "resolve":{"scale":{"color":"independent","shape":"independent"}},
  "hconcat":[
   {"width":235,"height":157,"data":{"name":"de"},"transform":[{"filter":"datum.p=='ER'"}],
    "layer":[
     {"data":{"name":"thr"},"mark":{"type":"rule","color":"#9b9b9b","strokeWidth":1.5},"encoding":{"y":{"field":"t","type":"quantitative","scale":{"domain":[0,105],"nice":false,"zero":false},"axis":{"values":[0,20,40,60,80,100],"labelOverlap":false,"title":"% wells positive","titleFontSize":17,"titleFontWeight":"normal","titlePadding":8}}}},
     {"mark":{"type":"rule","strokeWidth":1.3},"encoding":{"x":{"field":"x","type":"quantitative","scale":{"type":"log","domain":[10,100000],"nice":false}},"y":{"field":"lo","type":"quantitative","scale":{"domain":[0,105],"nice":false,"zero":false},"axis":{"values":[0,20,40,60,80,100],"labelOverlap":false,"title":"% wells positive","titleFontSize":17,"titleFontWeight":"normal","titlePadding":8}},"y2":{"field":"hi"},"color":{"field":"s","type":"nominal","scale":{"domain":["control Ab","anti-CD8 Ab","untreated"],"range":["#1414e0","#f01818","#000000"]},"legend":null}}},
     {"mark":{"type":"tick","orient":"horizontal","size":10,"thickness":1.3},"encoding":{"x":{"field":"x","type":"quantitative","scale":{"type":"log","domain":[10,100000],"nice":false}},"y":{"field":"lo","type":"quantitative","scale":{"domain":[0,105],"nice":false,"zero":false},"axis":{"values":[0,20,40,60,80,100],"labelOverlap":false,"title":"% wells positive","titleFontSize":17,"titleFontWeight":"normal","titlePadding":8}},"color":{"field":"s","type":"nominal","scale":{"domain":["control Ab","anti-CD8 Ab","untreated"],"range":["#1414e0","#f01818","#000000"]},"legend":null}}},
     {"mark":{"type":"tick","orient":"horizontal","size":10,"thickness":1.3},"encoding":{"x":{"field":"x","type":"quantitative","scale":{"type":"log","domain":[10,100000],"nice":false}},"y":{"field":"hi","type":"quantitative","scale":{"domain":[0,105],"nice":false,"zero":false},"axis":{"values":[0,20,40,60,80,100],"labelOverlap":false,"title":"% wells positive","titleFontSize":17,"titleFontWeight":"normal","titlePadding":8}},"color":{"field":"s","type":"nominal","scale":{"domain":["control Ab","anti-CD8 Ab","untreated"],"range":["#1414e0","#f01818","#000000"]},"legend":null}}},
     {"mark":{"type":"line","strokeWidth":2},"encoding":{"x":{"field":"x","type":"quantitative","scale":{"type":"log","domain":[10,100000],"nice":false}},"y":{"field":"y","type":"quantitative","scale":{"domain":[0,105],"nice":false,"zero":false},"axis":{"values":[0,20,40,60,80,100],"labelOverlap":false,"title":"% wells positive","titleFontSize":17,"titleFontWeight":"normal","titlePadding":8}},"color":{"field":"s","type":"nominal","scale":{"domain":["control Ab","anti-CD8 Ab","untreated"],"range":["#1414e0","#f01818","#000000"]},"legend":null}}},
     {"mark":{"type":"point","filled":true,"size":130,"opacity":1},"encoding":{"x":{"field":"x","type":"quantitative","scale":{"type":"log","domain":[10,100000],"nice":false},"axis":{"values":[10,100,1000,10000,100000],"labelExpr":"'10' + ['¹','²','³','⁴','⁵'][round(log(datum.value)/LN10)-1]","labelFlush":false,"labelOverlap":false,"title":"cells/well","titleFontSize":16,"titleFontWeight":"bold","titlePadding":9}},"y":{"field":"y","type":"quantitative","scale":{"domain":[0,105],"nice":false,"zero":false},"axis":{"values":[0,20,40,60,80,100],"labelOverlap":false,"title":"% wells positive","titleFontSize":17,"titleFontWeight":"normal","titlePadding":8}},"color":{"field":"s","type":"nominal","scale":{"domain":["control Ab","anti-CD8 Ab","untreated"],"range":["#1414e0","#f01818","#000000"]},"legend":null},"shape":{"field":"s","type":"nominal","scale":{"domain":["control Ab","anti-CD8 Ab","untreated"],"range":["diamond","circle","triangle-down"]},"legend":null}}}
    ]},
   {"width":235,"height":157,"data":{"name":"de"},"transform":[{"filter":"datum.p=='EG'"}],
    "resolve":{"scale":{"color":"independent","shape":"independent"}},
    "layer":[
     {"data":{"name":"thr"},"mark":{"type":"rule","color":"#9b9b9b","strokeWidth":1.5},"encoding":{"y":{"field":"t","type":"quantitative","scale":{"domain":[0,105],"nice":false,"zero":false},"axis":{"values":[0,20,40,60,80,100],"labelOverlap":false,"title":null}}}},
     {"mark":{"type":"rule","strokeWidth":1.3},"encoding":{"x":{"field":"x","type":"quantitative","scale":{"type":"log","domain":[10,100000],"nice":false}},"y":{"field":"lo","type":"quantitative","scale":{"domain":[0,105],"nice":false,"zero":false},"axis":{"values":[0,20,40,60,80,100],"labelOverlap":false,"title":null}},"y2":{"field":"hi"},"color":{"field":"s","type":"nominal","scale":{"domain":["control Ab","anti-CD8 Ab","untreated"],"range":["#1414e0","#f01818","#000000"]},"legend":null}}},
     {"mark":{"type":"tick","orient":"horizontal","size":10,"thickness":1.3},"encoding":{"x":{"field":"x","type":"quantitative","scale":{"type":"log","domain":[10,100000],"nice":false}},"y":{"field":"lo","type":"quantitative","scale":{"domain":[0,105],"nice":false,"zero":false},"axis":{"values":[0,20,40,60,80,100],"labelOverlap":false,"title":null}},"color":{"field":"s","type":"nominal","scale":{"domain":["control Ab","anti-CD8 Ab","untreated"],"range":["#1414e0","#f01818","#000000"]},"legend":null}}},
     {"mark":{"type":"tick","orient":"horizontal","size":10,"thickness":1.3},"encoding":{"x":{"field":"x","type":"quantitative","scale":{"type":"log","domain":[10,100000],"nice":false}},"y":{"field":"hi","type":"quantitative","scale":{"domain":[0,105],"nice":false,"zero":false},"axis":{"values":[0,20,40,60,80,100],"labelOverlap":false,"title":null}},"color":{"field":"s","type":"nominal","scale":{"domain":["control Ab","anti-CD8 Ab","untreated"],"range":["#1414e0","#f01818","#000000"]},"legend":null}}},
     {"data":{"name":"fit"},"transform":[{"filter":"datum.p=='EG'"}],"mark":{"type":"line","strokeWidth":2,"interpolate":"monotone"},"encoding":{"x":{"field":"x","type":"quantitative","scale":{"type":"log","domain":[10,100000],"nice":false}},"y":{"field":"y","type":"quantitative","scale":{"domain":[0,105],"nice":false,"zero":false},"axis":{"values":[0,20,40,60,80,100],"labelOverlap":false,"title":null}},"color":{"field":"s","type":"nominal","scale":{"domain":["control Ab","anti-CD8 Ab","untreated"],"range":["#1414e0","#f01818","#000000"]},"legend":null}}},
     {"mark":{"type":"point","filled":true,"size":130,"opacity":1},"encoding":{"x":{"field":"x","type":"quantitative","scale":{"type":"log","domain":[10,100000],"nice":false},"axis":{"values":[10,100,1000,10000,100000],"labelExpr":"'10' + ['¹','²','³','⁴','⁵'][round(log(datum.value)/LN10)-1]","labelFlush":false,"labelOverlap":false,"title":"cells/well","titleFontSize":16,"titleFontWeight":"bold","titlePadding":9}},"y":{"field":"y","type":"quantitative","scale":{"domain":[0,105],"nice":false,"zero":false},"axis":{"values":[0,20,40,60,80,100],"labelOverlap":false,"title":null}},"color":{"field":"s","type":"nominal","scale":{"domain":["control Ab","anti-CD8 Ab","untreated"],"range":["#1414e0","#f01818","#000000"]},"legend":null},"shape":{"field":"s","type":"nominal","scale":{"domain":["control Ab","anti-CD8 Ab","untreated"],"range":["diamond","circle","triangle-down"]},"legend":null}}},
     {"transform":[{"filter":"datum.x < 0"}],"mark":{"type":"point","filled":true},"encoding":{
       "color":{"field":"s","type":"nominal","scale":{"domain":["control Ab","anti-CD8 Ab","untreated"],"range":["#1414e0","#f01818","#000000"]},"legend":{"title":null,"orient":"none","legendX":23,"legendY":224,"columns":1,"symbolSize":225,"symbolOpacity":1,"symbolStrokeWidth":0,"symbolOffset":12,"labelFontSize":23,"labelFontWeight":"bold","labelColor":"#000000","labelOffset":8,"labelLimit":400,"strokeColor":"#000000","fillColor":"white","padding":5,"rowPadding":6,"encode":{"legend":{"update":{"strokeWidth":{"value":2.5}}}}}},
       "shape":{"field":"s","type":"nominal","scale":{"domain":["control Ab","anti-CD8 Ab","untreated"],"range":["M-2.33,-0.15H2.33V0.15H-2.33ZM0,-1.05L1.05,0L0,1.05L-1.05,0Z","M-2.33,-0.15H2.33V0.15H-2.33ZM-0.97,0A0.97,0.97,0,1,1,0.97,0A0.97,0.97,0,1,1,-0.97,0Z","M-2.33,-0.15H2.33V0.15H-2.33ZM-1,-0.8H1L0,1Z"]},"legend":{"title":null,"orient":"none","legendX":23,"legendY":224,"columns":1,"symbolSize":225,"symbolOpacity":1,"symbolStrokeWidth":0,"symbolOffset":12,"labelFontSize":23,"labelFontWeight":"bold","labelColor":"#000000","labelOffset":8,"labelLimit":400,"strokeColor":"#000000","fillColor":"white","padding":5,"rowPadding":6,"encode":{"legend":{"update":{"strokeWidth":{"value":2.5}}}}}}}}
    ]},
   {"width":235,"height":157,"data":{"name":"de"},"transform":[{"filter":"datum.p=='EP'"}],
    "layer":[
     {"data":{"name":"thr"},"mark":{"type":"rule","color":"#9b9b9b","strokeWidth":1.5},"encoding":{"y":{"field":"t","type":"quantitative","scale":{"domain":[0,105],"nice":false,"zero":false},"axis":{"values":[0,20,40,60,80,100],"labelOverlap":false,"title":null}}}},
     {"mark":{"type":"rule","strokeWidth":1.3},"encoding":{"x":{"field":"x","type":"quantitative","scale":{"type":"log","domain":[10,100000],"nice":false}},"y":{"field":"lo","type":"quantitative","scale":{"domain":[0,105],"nice":false,"zero":false},"axis":{"values":[0,20,40,60,80,100],"labelOverlap":false,"title":null}},"y2":{"field":"hi"},"color":{"field":"s","type":"nominal","scale":{"domain":["control Ab","anti-CD8 Ab","untreated"],"range":["#1414e0","#f01818","#000000"]},"legend":null}}},
     {"mark":{"type":"tick","orient":"horizontal","size":10,"thickness":1.3},"encoding":{"x":{"field":"x","type":"quantitative","scale":{"type":"log","domain":[10,100000],"nice":false}},"y":{"field":"lo","type":"quantitative","scale":{"domain":[0,105],"nice":false,"zero":false},"axis":{"values":[0,20,40,60,80,100],"labelOverlap":false,"title":null}},"color":{"field":"s","type":"nominal","scale":{"domain":["control Ab","anti-CD8 Ab","untreated"],"range":["#1414e0","#f01818","#000000"]},"legend":null}}},
     {"mark":{"type":"tick","orient":"horizontal","size":10,"thickness":1.3},"encoding":{"x":{"field":"x","type":"quantitative","scale":{"type":"log","domain":[10,100000],"nice":false}},"y":{"field":"hi","type":"quantitative","scale":{"domain":[0,105],"nice":false,"zero":false},"axis":{"values":[0,20,40,60,80,100],"labelOverlap":false,"title":null}},"color":{"field":"s","type":"nominal","scale":{"domain":["control Ab","anti-CD8 Ab","untreated"],"range":["#1414e0","#f01818","#000000"]},"legend":null}}},
     {"mark":{"type":"line","strokeWidth":2},"encoding":{"x":{"field":"x","type":"quantitative","scale":{"type":"log","domain":[10,100000],"nice":false}},"y":{"field":"y","type":"quantitative","scale":{"domain":[0,105],"nice":false,"zero":false},"axis":{"values":[0,20,40,60,80,100],"labelOverlap":false,"title":null}},"color":{"field":"s","type":"nominal","scale":{"domain":["control Ab","anti-CD8 Ab","untreated"],"range":["#1414e0","#f01818","#000000"]},"legend":null}}},
     {"mark":{"type":"point","filled":false,"fill":"white","size":140,"strokeWidth":2,"opacity":1},"encoding":{"x":{"field":"x","type":"quantitative","scale":{"type":"log","domain":[10,100000],"nice":false},"axis":{"values":[10,100,1000,10000,100000],"labelExpr":"'10' + ['¹','²','³','⁴','⁵'][round(log(datum.value)/LN10)-1]","labelFlush":false,"labelOverlap":false,"title":"cells/well","titleFontSize":16,"titleFontWeight":"bold","titlePadding":9}},"y":{"field":"y","type":"quantitative","scale":{"domain":[0,105],"nice":false,"zero":false},"axis":{"values":[0,20,40,60,80,100],"labelOverlap":false,"title":null}},"color":{"field":"s","type":"nominal","scale":{"domain":["control Ab","anti-CD8 Ab","untreated"],"range":["#1414e0","#f01818","#000000"]},"legend":null},"shape":{"field":"s","type":"nominal","scale":{"domain":["control Ab","anti-CD8 Ab","untreated"],"range":["diamond","circle","triangle-down"]},"legend":null}}}
    ]}
  ]
 }
]
}
